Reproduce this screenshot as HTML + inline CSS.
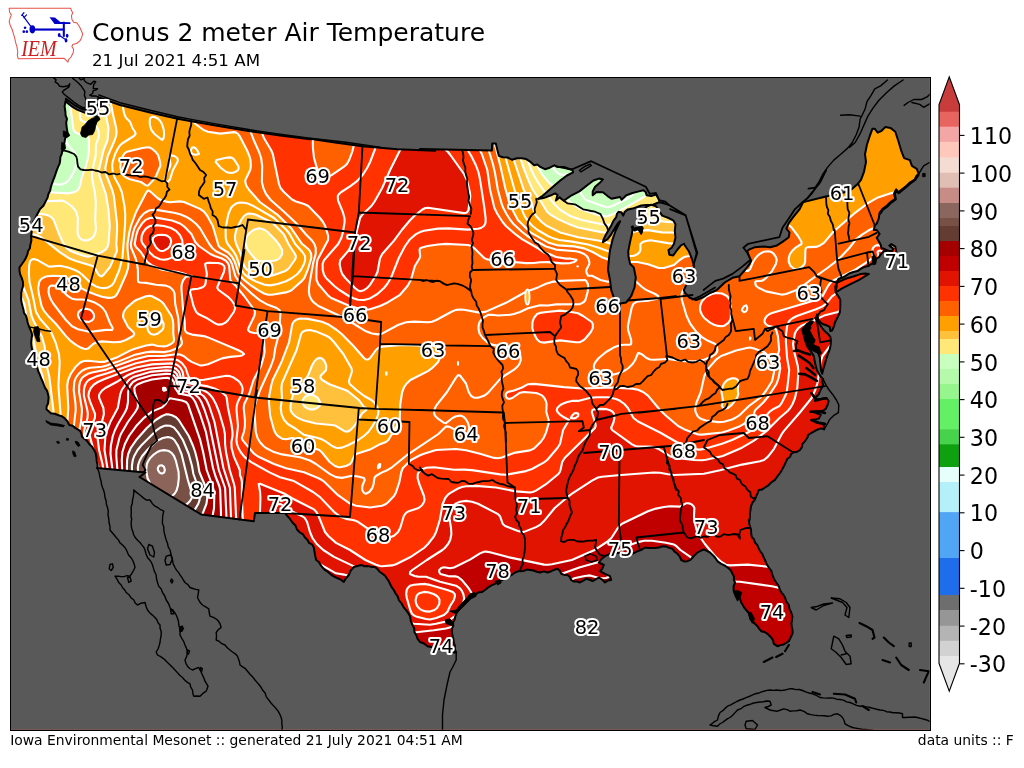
<!DOCTYPE html>
<html lang="en"><head><meta charset="utf-8"><title>Conus 2 meter Air Temperature</title>
<style>html,body{margin:0;padding:0;background:#fff;}body{width:1024px;height:768px;overflow:hidden;}svg{display:block;}svg text{font-family:'DejaVu Sans', 'Liberation Sans', sans-serif;}</style></head><body>
<svg width="1024" height="768" viewBox="0 0 1024 768">
<rect width="1024" height="768" fill="#fff"/>
<defs><clipPath id="axclip"><rect x="10.5" y="77.5" width="920.0" height="653.0"/></clipPath></defs>
<rect x="10.5" y="77.5" width="920.0" height="653.0" fill="#595959"/>
<g clip-path="url(#axclip)">
<defs><clipPath id="land"><path d="M65.6,100.9 64.6,106.1 65.4,112.0 65.6,115.5 67.0,118.8 66.2,122.7 66.6,126.6 67.4,132.1 68.8,135.4 65.4,137.4 64.5,142.3 62.9,147.1 62.5,150.1 61.7,154.0 60.4,156.8 60.2,159.8 59.7,163.4 58.2,166.7 56.8,170.1 55.7,173.5 54.5,177.0 53.1,180.4 51.9,183.8 50.8,187.2 50.1,190.8 48.4,194.0 47.6,197.6 45.9,200.9 43.4,205.7 40.0,209.1 38.6,211.8 37.1,214.5 34.8,220.0 33.2,221.5 32.9,225.5 31.8,229.3 31.6,232.7 31.2,236.1 31.4,240.6 30.3,244.9 29.9,248.3 28.0,251.3 27.3,254.7 26.0,257.7 24.4,260.5 22.0,264.0 19.5,267.4 19.5,270.8 20.1,274.2 21.8,278.1 23.0,282.0 23.1,286.0 21.9,289.8 21.2,293.1 21.2,296.3 21.1,299.6 21.7,302.9 22.5,306.2 23.4,309.4 24.0,312.9 26.0,315.8 27.0,319.1 27.8,323.2 29.3,327.0 30.9,330.8 32.2,334.8 31.6,338.7 31.2,342.6 31.5,346.3 32.2,350.0 34.4,352.7 36.1,355.6 37.0,359.5 36.8,363.4 37.1,367.3 38.3,371.4 40.0,375.2 41.2,378.5 42.7,381.6 43.9,384.9 45.1,387.9 47.0,390.6 47.9,393.7 48.6,397.1 48.4,400.5 48.0,403.5 46.7,406.3 46.5,409.3 50.8,413.2 54.8,413.8 58.6,415.2 61.8,416.2 64.5,418.1 67.4,421.2 69.3,425.0 72.6,425.8 75.2,427.9 80.1,430.8 81.4,433.7 82.0,436.7 84.4,438.7 86.9,440.6 89.0,443.8 91.8,446.4 94.0,449.7 95.7,453.3 96.4,457.2 96.7,461.1 97.5,464.5 97.7,467.9 97.0,468.0 145.5,472.5 139.5,477.0 201.2,514.5 253.8,521.2 255.0,513.0 285.0,513.0 287.5,516.1 290.2,519.2 292.5,522.5 295.5,525.5 297.0,529.5 300.0,532.5 303.1,534.4 305.0,537.5 307.5,540.0 309.1,542.9 312.2,544.6 313.8,547.5 314.5,551.7 315.2,555.9 316.2,560.0 318.9,562.0 320.6,564.9 322.5,567.5 324.8,569.8 327.5,571.6 330.0,573.8 332.8,575.9 336.0,577.5 340.2,579.3 343.8,582.0 345.9,578.3 348.8,575.0 350.7,570.7 353.8,567.0 357.5,566.0 361.2,565.0 364.6,566.2 368.1,566.1 371.5,566.9 375.0,567.0 377.6,569.1 379.7,571.8 382.5,573.8 385.1,575.8 386.9,578.5 388.8,581.2 390.2,584.3 391.8,587.3 393.8,590.0 395.5,593.3 397.7,596.4 398.8,600.0 401.6,603.5 403.8,607.5 406.2,610.1 408.2,613.1 410.0,616.2 410.8,620.8 412.5,625.0 414.2,628.2 414.4,631.9 416.2,635.0 417.6,638.8 420.0,642.0 424.1,643.5 427.5,646.2 431.3,646.9 435.0,648.0 438.3,648.7 441.8,648.6 445.0,650.0 448.8,650.7 452.4,652.3 456.2,652.5 456.2,652.5 454.8,649.3 454.9,645.8 453.8,642.5 453.4,639.1 452.5,635.8 452.0,632.5 451.8,629.1 453.2,625.9 453.0,622.5 454.6,619.8 455.2,616.7 456.2,613.8 457.9,611.3 459.2,608.5 461.2,606.2 463.7,602.5 467.5,600.0 469.9,598.1 472.6,596.8 475.0,595.0 478.0,592.6 481.9,592.1 485.0,590.0 488.1,587.5 491.4,585.4 495.0,583.8 497.9,581.0 502.1,580.3 505.0,577.5 508.5,576.2 512.0,574.8 515.0,572.5 520.0,570.5 520.0,571.2 523.4,571.0 526.6,569.6 530.0,570.0 533.4,570.5 536.7,571.7 540.0,572.5 543.7,571.4 547.6,572.5 551.2,571.2 554.3,569.8 557.5,568.8 559.9,570.9 561.2,573.8 564.3,574.9 567.5,575.0 569.9,577.1 571.2,580.0 574.0,581.6 577.1,581.6 580.0,582.5 583.2,580.7 586.2,578.8 589.5,579.7 592.5,581.2 595.6,579.4 598.8,577.5 602.2,579.6 605.0,582.5 607.8,580.5 611.2,580.0 610.0,576.2 605.0,573.8 600.0,571.2 602.4,568.5 603.8,565.0 598.8,562.5 601.5,559.0 605.0,556.2 610.0,553.8 613.8,554.0 617.5,552.7 621.2,553.0 624.9,554.1 628.7,554.2 632.5,553.8 637.5,551.2 641.5,549.8 645.0,547.5 648.3,548.1 651.7,548.0 655.0,548.0 658.8,547.5 662.5,546.2 666.0,546.4 669.2,547.9 672.5,548.8 674.6,551.7 677.5,553.8 679.8,556.6 681.2,560.0 684.2,561.4 687.5,561.2 690.4,559.9 692.5,557.5 694.9,554.9 697.5,552.5 700.5,550.8 703.8,549.5 706.9,550.9 710.0,552.5 712.6,554.9 715.0,557.5 717.5,561.3 721.2,563.8 724.5,565.4 727.5,567.5 730.7,570.1 732.5,573.8 734.0,576.5 733.8,579.7 735.0,582.5 733.5,586.7 733.8,591.2 736.3,593.1 738.8,595.0 740.0,598.7 741.2,602.5 742.8,605.1 744.2,607.7 746.2,610.0 748.6,612.9 750.0,616.2 751.1,619.4 752.5,622.5 752.5,621.2 754.9,623.8 757.5,626.2 759.2,628.9 761.2,631.2 764.6,632.0 767.5,633.8 771.2,637.5 773.1,640.4 773.8,643.8 777.5,646.2 780.6,645.1 783.8,644.5 788.8,641.2 791.2,636.2 791.2,636.2 792.6,633.3 792.5,630.0 791.8,626.7 791.4,623.4 792.0,620.0 792.4,616.2 791.2,612.5 789.5,608.9 788.8,605.0 786.3,601.5 785.0,597.5 783.5,594.9 781.5,592.6 780.0,590.0 778.7,586.0 776.2,582.5 774.0,578.9 772.5,575.0 771.3,570.9 768.8,567.5 766.6,563.9 765.0,560.0 763.5,557.0 762.3,553.8 760.0,551.2 758.6,548.2 757.3,545.1 755.0,542.5 754.1,539.5 751.8,537.0 751.2,533.8 751.0,529.3 749.5,525.0 748.8,520.0 749.5,520.0 750.0,516.7 749.9,513.3 750.5,510.0 751.0,506.1 752.5,502.5 754.9,499.7 756.2,496.2 757.6,493.2 758.8,490.0 762.1,489.4 765.0,487.5 768.4,485.3 771.2,482.5 774.9,479.9 777.5,476.2 779.3,473.8 781.1,471.4 782.5,468.8 784.5,465.1 786.2,461.2 787.6,458.5 790.2,456.7 791.2,453.8 794.0,452.2 797.3,451.7 800.0,450.0 801.9,447.1 802.5,443.8 805.2,440.8 807.5,437.5 808.1,435.0 811.0,433.2 815.9,430.3 820.8,428.4 824.2,429.3 823.7,424.5 820.8,423.5 815.9,422.5 812.0,420.1 814.9,419.6 818.8,418.6 820.8,414.7 816.9,413.2 813.0,411.8 818.8,411.3 822.7,410.8 825.7,408.8 827.6,404.9 828.6,401.0 826.6,398.1 822.7,398.6 818.8,400.0 814.9,401.0 815.9,397.1 818.8,394.2 820.8,389.3 823.2,385.4 822.4,382.0 822.7,378.6 823.3,379.7 820.4,376.2 816.9,370.3 815.1,363.3 813.9,356.3 811.0,351.6 807.5,346.9 805.2,341.0 804.0,335.2 804.0,329.3 806.3,324.6 811.0,321.1 812.8,321.7 809.3,327.0 808.1,332.8 809.3,338.7 811.0,344.5 814.5,349.2 818.0,352.7 819.8,357.4 820.4,363.3 821.0,370.3 822.2,373.8 823.3,369.1 825.1,363.3 826.3,358.6 828.0,353.9 829.8,349.2 830.7,344.5 830.9,341.0 830.4,336.9 828.0,334.0 825.1,331.6 822.2,328.1 820.4,325.2 818.0,322.3 816.3,318.8 816.9,314.6 817.5,316.4 818.6,319.9 820.4,322.3 822.7,324.0 826.3,325.2 829.8,327.0 830.4,331.1 832.1,330.5 833.9,326.4 835.0,322.3 837.4,317.6 839.7,312.9 840.3,307.0 840.3,300.0 839.6,298.4 837.7,295.4 835.7,292.5 836.1,289.6 836.7,286.2 836.7,282.7 838.6,278.8 842.3,277.9 845.5,275.9 849.1,273.5 853.3,272.0 857.5,271.1 861.1,268.7 864.3,266.9 867.9,266.1 872.8,263.2 874.8,259.3 878.7,257.3 881.6,253.4 884.5,250.5 888.4,254.4 894.3,255.4 896.2,251.5 895.3,246.6 891.4,244.1 889.4,245.6 893.3,248.6 892.3,251.5 887.5,250.5 883.6,248.6 881.6,248.6 880.9,245.5 879.6,242.7 876.7,237.8 879.6,233.9 876.7,230.0 873.8,230.0 874.8,225.5 876.7,223.6 878.7,218.7 879.6,212.8 882.6,208.9 886.5,206.0 890.4,202.1 895.3,199.1 894.3,193.3 896.2,189.4 898.2,192.3 902.1,189.4 906.0,186.4 909.9,182.5 914.8,179.6 916.2,176.3 918.7,173.8 916.8,168.9 911.9,165.9 909.9,160.1 904.1,158.1 901.1,150.3 898.2,140.5 895.3,131.8 890.4,127.9 885.5,126.9 881.6,130.8 877.7,132.7 874.8,128.8 872.4,128.8 869.9,135.7 867.0,144.5 865.0,154.2 866.0,162.0 864.0,171.8 861.1,179.6 858.2,183.5 849.4,191.3 825.9,196.6 803.5,202.1 802.8,202.8 799.7,209.1 793.4,216.9 788.8,223.1 786.4,228.6 789.5,232.5 788.8,237.2 782.5,241.9 776.2,245.8 770.0,247.3 763.8,246.6 754.4,247.3 748.9,249.7 747.3,251.2 748.1,254.4 751.2,260.6 749.7,263.8 745.0,270.0 739.5,276.2 732.5,277.8 724.7,282.5 716.9,290.0 710.0,293.0 703.8,297.0 696.2,300.0 690.0,298.0 685.0,293.0 683.8,290.0 686.2,285.0 688.8,278.8 692.0,271.2 694.2,266.2 692.0,259.0 688.8,251.2 684.0,244.2 684.1,243.8 681.0,245.3 677.1,250.0 673.2,255.5 669.3,254.7 668.5,250.0 671.6,247.7 674.0,243.8 675.5,237.5 674.8,231.2 675.5,224.2 673.2,220.3 668.5,218.0 662.2,215.6 656.0,206.2 651.3,204.7 647.4,206.2 643.5,209.4 641.9,215.6 641.2,221.9 640.4,225.0 642.7,228.1 641.2,233.6 638.8,229.7 635.7,228.1 632.6,229.7 631.8,234.4 630.7,239.1 629.4,245.3 628.2,251.6 628.7,257.8 630.2,264.1 633.8,267.5 635.8,277.5 634.5,287.5 631.2,296.2 626.2,302.5 618.8,303.8 613.8,297.5 611.2,290.0 610.0,280.0 608.0,270.0 608.8,260.0 610.0,250.0 612.5,240.0 612.2,240.6 613.8,235.9 615.4,231.2 617.7,226.6 620.1,221.1 617.7,223.4 615.4,227.3 613.0,231.2 610.7,235.2 607.6,239.1 602.9,242.2 603.7,239.1 606.0,234.4 608.3,230.5 610.7,226.6 612.2,223.4 613.8,220.3 616.2,217.2 616.9,214.1 618.5,211.7 621.6,212.5 623.2,215.6 624.8,211.7 627.9,209.4 632.6,208.6 637.2,207.0 641.2,205.5 646.6,205.0 652.9,204.7 659.1,202.3 663.8,203.1 668.5,204.7 665.4,203.9 659.9,202.3 658.3,198.4 656.0,194.5 651.3,196.1 646.6,195.3 645.8,192.2 643.5,190.3 638.8,191.4 632.6,193.0 626.3,195.3 621.6,199.7 620.1,196.9 616.2,197.7 611.5,198.8 607.6,196.1 602.9,192.2 596.6,191.9 592.7,195.3 592.7,191.4 595.1,186.7 599.8,182.8 602.9,179.4 599.0,178.6 593.5,180.5 587.2,185.2 579.4,191.4 571.6,195.3 563.8,200.8 560.7,198.4 559.8,197.3 555.9,200.5 557.5,195.0 555.2,193.4 549.7,195.8 543.4,198.1 538.0,198.9 542.7,195.8 548.1,191.1 554.4,185.6 560.6,180.2 566.9,175.5 573.1,172.3 572.3,169.7 570.0,169.2 563.8,166.9 557.5,166.9 554.4,165.3 549.7,167.7 545.0,169.2 540.3,166.9 537.2,164.5 534.1,165.3 530.9,162.2 526.2,159.1 521.6,158.3 516.9,158.3 512.2,159.8 507.5,157.5 502.8,157.2 498.9,155.9 497.3,149.7 495.8,143.4 492.2,143.4 491.9,150.5 420.0,148.9 435.0,150.8 397.5,149.2 362.5,146.2 335.0,142.5 310.0,138.8 310.0,139.2 280.0,135.5 250.0,131.2 220.0,126.2 191.2,121.2 177.5,118.8 150.0,112.5 120.0,105.0 98.8,97.5 98.6,97.4 97.6,103.3 98.6,117.0 85.9,113.1 82.0,111.6 77.1,109.6 72.2,106.7 67.8,103.3 65.6,100.9ZM835.7,292.5 841.6,288.6 849.4,284.7 859.1,279.8 868.9,273.9 865.0,273.4 861.1,273.9 853.3,276.5 845.5,278.8 837.7,282.3 835.3,286.6Z" clip-rule="nonzero"/></clipPath></defs>
<g clip-path="url(#land)">
<rect x="0" y="0" width="1024" height="768" fill="#96f58c"/>
<path d="M42.6,74.0 602.3,74.0 598.0,79.8 593.0,88.0 588.9,96.0 585.6,104.0 582.9,112.0 581.1,120.0 580.5,126.0 580.8,132.0 581.7,136.0 583.4,140.0 597.2,160.0 608.0,182.3 610.0,184.9 612.0,186.3 616.0,187.0 619.4,186.0 622.0,184.5 626.0,180.7 630.0,175.7 640.0,162.0 648.0,150.0 653.5,140.0 657.0,132.0 659.7,124.0 661.7,116.0 663.4,102.0 663.4,94.0 662.9,88.0 661.4,80.0 659.5,74.0 934.0,74.0 934.0,732.0 8.0,732.0 8.0,536.0 13.6,506.0 16.9,482.0 18.6,458.0 19.3,428.0 18.8,412.0 17.2,400.0 14.0,386.4 8.0,366.9 8.0,173.8 14.0,171.4 22.0,169.1 46.0,164.5 50.0,162.1 51.3,160.0 52.2,156.0 52.7,140.0 55.8,124.0 55.9,120.0 54.5,114.0 46.9,92.0 42.6,74.0Z" fill="#c8ffbe" fill-rule="evenodd"/>
<path d="M67.4,74.0 544.4,74.0 538.0,120.1 535.7,142.0 535.4,150.0 535.8,158.0 536.4,162.0 538.0,167.0 542.0,174.1 548.0,181.6 556.0,188.6 567.5,200.0 575.4,206.0 580.0,208.8 584.0,210.4 600.0,215.4 606.0,216.3 608.0,216.1 612.0,214.6 632.0,203.9 648.0,194.7 664.5,188.0 672.0,184.5 681.6,178.0 690.3,170.0 697.3,162.0 704.8,152.0 712.5,140.0 719.2,128.0 725.0,116.0 730.9,102.0 735.9,88.0 740.2,74.0 934.0,74.0 934.0,732.0 8.0,732.0 8.0,659.5 17.5,592.0 32.1,504.0 34.4,482.0 35.0,462.0 34.7,414.0 33.4,400.0 29.9,384.0 23.4,364.0 20.1,352.0 11.2,312.0 8.0,303.7 8.0,200.9 12.9,198.0 18.0,195.7 28.0,192.8 34.0,192.0 42.0,191.7 68.0,193.4 74.8,192.0 77.8,190.0 79.1,188.0 80.4,184.0 81.5,178.0 85.9,166.0 88.0,157.8 88.8,152.0 88.9,140.0 88.6,138.0 86.7,136.0 78.0,133.7 75.1,132.0 73.5,130.0 70.2,106.0 67.4,74.0Z" fill="#ffe878" fill-rule="evenodd"/>
<path d="M93.4,74.0 512.6,74.0 517.2,136.0 519.1,152.0 520.9,160.0 522.9,166.0 528.0,179.3 532.8,190.0 539.9,200.0 547.3,212.0 550.0,214.3 558.0,219.1 570.0,224.6 578.0,227.5 600.0,231.9 610.0,233.2 614.0,232.8 618.0,230.9 629.7,220.0 633.3,218.0 638.0,218.0 666.7,222.0 674.0,222.1 681.3,220.0 688.0,217.0 694.0,213.4 702.0,207.5 717.1,194.0 737.2,174.0 754.1,156.0 765.9,142.0 774.6,130.0 783.4,116.0 792.2,100.0 805.6,74.0 934.0,74.0 934.0,732.0 26.3,732.0 36.3,606.0 41.0,562.0 49.6,498.0 50.6,484.0 50.6,470.0 48.5,438.0 47.7,410.0 45.9,396.0 42.8,378.0 38.0,362.0 33.5,340.0 26.8,320.0 24.4,304.0 22.0,298.6 12.0,280.0 8.0,270.7 8.0,236.8 10.4,232.0 14.0,227.0 18.0,222.9 22.0,219.8 26.0,217.5 32.0,215.2 38.0,214.1 42.0,214.1 46.0,214.8 49.4,216.0 52.0,217.9 53.7,220.0 59.0,234.0 62.7,242.0 66.5,248.0 70.0,250.7 78.3,254.0 84.3,256.0 88.0,256.7 91.5,256.0 102.0,252.1 106.0,249.1 107.9,246.0 108.6,242.0 109.8,226.0 108.5,210.0 106.0,194.5 99.6,176.0 98.9,170.0 103.6,150.0 107.6,140.0 108.5,128.0 105.7,114.0 104.0,110.7 98.1,102.0 95.6,96.0 93.7,86.0 93.4,74.0ZM254.0,229.7 250.0,232.5 246.9,236.0 245.9,238.0 245.4,242.0 246.2,246.0 248.0,250.4 254.3,258.0 256.0,259.8 258.0,260.7 262.0,261.3 274.0,260.8 276.9,260.0 279.9,258.0 282.2,254.0 282.1,250.0 280.0,245.9 276.0,240.6 267.6,232.0 264.0,229.5 260.0,228.4 258.0,228.4 254.0,229.7ZM308.0,395.2 306.0,396.0 304.0,397.7 302.8,400.0 302.6,402.0 302.9,404.0 304.0,405.9 306.5,408.0 310.0,409.4 314.0,409.4 317.2,408.0 319.5,406.0 320.3,404.0 320.1,402.0 317.9,398.0 314.0,395.3 310.0,394.8 308.0,395.2Z" fill="#ffc03c" fill-rule="evenodd"/>
<path d="M108.6,74.0 498.1,74.0 503.3,100.0 510.2,144.0 513.2,158.0 523.8,190.0 531.7,204.0 534.1,212.0 536.0,216.0 541.7,222.0 546.0,225.5 560.0,232.4 578.0,237.2 604.0,241.5 620.0,246.8 622.0,246.7 622.8,246.0 624.9,240.0 627.6,236.0 630.0,233.8 634.0,231.8 638.0,231.0 648.0,230.1 662.0,232.4 678.0,232.6 686.0,231.8 692.0,230.0 700.0,226.2 706.9,222.0 715.1,216.0 746.0,190.6 780.2,164.0 788.0,157.0 794.9,150.0 801.5,142.0 808.5,132.0 830.9,94.0 844.3,74.0 934.0,74.0 934.0,732.0 40.2,732.0 47.3,594.0 50.7,554.0 57.7,496.0 58.4,484.0 58.3,472.0 55.1,440.0 53.4,410.0 49.2,376.0 46.7,366.0 44.6,346.0 41.7,336.0 34.0,321.8 31.6,316.0 28.5,300.0 20.5,280.0 17.1,270.0 15.6,262.0 15.5,256.0 16.1,252.0 17.3,248.0 19.3,244.0 22.0,240.3 24.5,238.0 28.0,235.8 32.0,234.6 34.0,234.5 38.0,235.6 42.0,238.0 60.0,252.4 70.0,258.8 76.0,261.1 92.6,266.0 94.8,268.0 98.0,274.1 100.0,276.1 102.0,276.1 104.0,274.4 110.0,267.0 116.6,252.0 116.9,250.0 116.3,244.0 117.1,230.0 117.1,224.0 113.9,196.0 112.3,190.0 105.9,174.0 105.3,168.0 107.8,156.0 114.8,140.0 116.1,136.0 116.6,132.0 116.2,128.0 112.9,114.0 108.8,92.0 108.2,84.0 108.6,74.0ZM248.0,213.6 246.0,214.5 244.0,216.0 241.1,220.0 236.2,230.0 234.9,236.0 235.1,240.0 236.2,244.0 240.7,254.0 244.0,265.6 245.4,268.0 248.0,270.7 252.0,273.1 268.0,276.0 270.0,276.0 274.0,275.1 284.0,271.5 286.9,270.0 289.1,268.0 294.8,260.0 295.7,258.0 295.8,256.0 295.0,254.0 288.5,244.0 284.0,234.5 274.0,224.3 271.1,222.0 256.0,214.7 252.0,213.7 248.0,213.6ZM320.0,357.9 318.0,358.2 316.0,359.6 314.0,361.9 312.0,365.5 308.7,374.0 304.2,382.0 302.8,384.0 293.3,394.0 291.5,400.0 290.5,406.0 290.5,410.0 292.0,413.0 295.0,416.0 298.0,418.0 304.0,420.6 316.0,423.5 334.0,425.3 336.0,426.0 344.0,430.9 346.0,431.6 348.0,431.5 350.5,430.0 354.3,426.0 358.5,420.0 362.0,413.4 366.4,410.0 366.0,408.0 364.0,407.0 358.9,400.0 348.0,391.2 346.0,390.2 330.0,384.5 322.3,380.0 320.6,378.0 320.5,376.0 326.0,370.2 326.3,366.0 325.8,364.0 324.0,360.4 322.0,358.6 320.0,357.9Z" fill="#ffa000" fill-rule="evenodd"/>
<path d="M168.0,74.0 466.6,74.0 474.0,88.4 480.0,101.6 490.0,128.1 495.3,146.0 500.8,168.0 505.2,188.0 509.8,204.0 516.5,218.0 518.0,220.2 523.5,226.0 529.8,232.0 532.0,233.4 547.1,242.0 552.7,244.0 558.0,245.4 572.0,246.2 582.5,248.0 590.0,250.7 604.0,258.2 610.0,260.1 628.0,261.9 638.0,262.1 648.0,264.3 660.0,268.3 664.0,268.0 674.0,265.0 682.0,258.3 686.0,256.5 696.0,255.2 704.0,253.6 718.0,249.1 730.0,243.2 748.0,231.9 756.0,227.5 766.0,223.8 776.0,222.3 784.0,223.2 786.3,224.0 789.8,226.0 793.5,230.0 800.6,240.0 801.6,242.0 801.4,244.0 796.0,247.3 792.0,251.1 790.0,254.0 788.7,258.0 788.8,262.0 790.6,266.0 794.0,268.7 796.0,269.2 798.0,269.1 802.0,267.0 804.4,264.0 805.1,262.0 805.4,250.0 806.0,247.9 808.0,247.1 816.0,246.9 820.0,245.4 824.0,242.9 833.1,232.0 854.0,213.7 868.0,203.1 878.0,197.4 890.0,193.4 896.0,192.2 910.0,191.5 918.0,190.3 926.0,187.7 934.0,183.5 934.0,732.0 69.0,732.0 68.6,686.0 67.0,606.0 67.0,574.0 68.4,540.0 72.9,492.0 73.5,480.0 72.6,468.0 68.3,446.0 67.3,436.0 67.3,424.0 68.3,408.0 67.2,386.0 68.1,380.0 70.7,374.0 76.0,366.4 80.0,362.7 82.0,361.7 84.0,361.0 88.0,360.7 100.0,362.0 104.0,361.9 118.0,356.9 130.0,350.6 134.0,349.0 146.0,345.5 152.0,344.6 157.7,346.0 164.0,346.4 166.8,346.0 171.0,344.0 173.5,342.0 174.1,340.0 173.3,334.0 173.3,324.0 172.8,320.0 171.5,316.0 164.0,304.2 162.0,302.0 159.2,300.0 152.0,296.2 150.0,295.7 146.0,296.2 136.2,300.0 134.0,301.4 126.4,308.0 123.7,312.0 123.0,316.0 123.4,318.0 128.0,326.9 133.3,332.0 134.3,334.0 133.1,336.0 125.8,340.0 120.0,341.9 114.0,342.3 102.0,341.4 96.9,342.0 93.1,344.0 88.0,348.6 86.0,349.1 84.0,348.8 80.0,347.2 76.0,344.9 70.0,340.3 66.0,336.1 56.1,324.0 48.0,315.7 44.0,310.9 41.6,306.0 38.9,294.0 38.2,288.0 39.2,282.0 40.4,280.0 42.0,278.4 46.0,276.5 52.0,275.7 60.0,276.0 64.0,277.0 68.0,278.7 72.0,281.1 82.0,288.6 88.8,292.0 96.0,294.8 102.0,296.7 108.0,297.9 112.0,297.8 114.0,297.1 115.5,296.0 117.1,294.0 119.2,290.0 126.3,274.0 128.1,268.0 128.7,260.0 127.6,250.0 127.5,244.0 129.4,232.0 130.9,226.0 136.1,212.0 146.0,192.9 148.0,190.4 150.0,191.2 157.5,198.0 160.6,200.0 166.0,201.6 170.0,202.2 180.0,201.4 184.0,202.0 200.0,208.9 204.0,211.7 207.3,216.0 212.8,226.0 218.6,246.0 220.7,248.0 228.0,252.5 232.0,256.7 234.8,262.0 238.1,272.0 240.4,276.0 244.0,279.9 250.0,284.8 258.0,290.1 264.0,293.5 268.0,294.8 272.0,294.8 286.0,292.4 290.0,291.1 292.0,289.8 302.0,280.9 304.4,278.0 308.0,269.2 311.3,258.0 311.2,254.0 310.0,251.1 308.0,248.7 302.0,243.8 291.1,228.0 278.0,215.2 259.8,202.0 249.2,190.0 246.5,186.0 245.3,182.0 245.4,180.0 250.2,170.0 250.9,166.0 250.5,160.0 249.4,156.0 246.9,150.0 240.0,136.7 238.1,134.0 236.0,132.5 234.0,132.1 220.0,133.6 208.0,131.7 203.6,130.0 195.6,124.0 192.0,120.3 189.3,116.0 181.3,100.0 171.3,82.0 168.0,74.0ZM728.0,379.7 726.0,381.2 723.7,384.0 721.6,390.0 721.5,392.0 722.8,400.0 721.8,406.0 723.2,408.0 724.0,408.3 726.0,408.5 728.0,408.0 732.0,404.6 737.1,398.0 738.3,394.0 737.8,390.0 738.5,382.0 737.9,380.0 736.0,378.7 734.0,378.2 732.0,378.3 728.0,379.7ZM296.0,319.8 294.0,321.3 292.3,324.0 289.1,342.0 281.5,362.0 272.7,380.0 271.1,386.0 269.2,396.0 268.9,402.0 270.2,416.0 274.0,430.0 276.0,433.9 277.8,436.0 282.0,438.7 286.0,439.2 292.0,438.1 294.0,438.3 302.0,443.8 319.2,450.0 322.0,452.5 329.7,462.0 334.9,466.0 338.0,467.1 340.0,467.2 346.0,466.0 350.1,464.0 351.5,462.0 354.3,456.0 356.0,454.0 370.0,449.6 380.0,444.2 386.0,442.0 388.4,440.0 397.9,424.0 399.7,420.0 400.3,404.0 402.2,392.0 404.0,387.3 406.3,384.0 410.4,380.0 428.0,371.1 432.0,368.2 436.0,364.3 438.1,362.0 439.8,358.0 439.9,354.0 439.1,350.0 438.0,347.6 436.1,346.0 432.0,345.4 424.0,345.7 402.0,345.0 382.0,346.6 378.2,348.0 375.9,350.0 370.0,358.1 368.0,359.5 366.0,359.5 364.0,358.0 353.5,346.0 341.7,334.0 336.8,330.0 328.0,324.2 322.0,321.7 308.0,318.9 300.0,318.5 296.0,319.8ZM142.4,148.0 148.0,147.2 150.0,147.6 152.0,148.8 156.0,152.3 158.0,154.8 160.1,162.0 160.3,166.0 156.0,176.0 154.0,179.3 148.0,185.6 146.0,185.3 140.9,182.0 130.0,179.3 126.0,177.5 124.0,176.0 122.4,174.0 120.4,168.0 120.6,162.0 122.0,157.7 124.1,154.0 126.0,152.3 128.0,151.4 142.4,148.0Z" fill="#ff6000" fill-rule="evenodd"/>
<path d="M260.0,76.0 260.5,74.0 397.6,74.0 412.0,78.8 424.0,84.7 432.0,89.8 438.0,94.2 450.0,105.2 456.0,111.8 462.0,119.5 472.0,134.7 480.1,150.0 486.8,168.0 488.0,173.7 490.1,190.0 494.4,208.0 497.4,214.0 504.2,224.0 508.0,228.0 522.0,239.2 537.5,248.0 544.0,252.7 549.4,254.0 556.0,257.0 566.0,258.6 570.0,258.5 576.5,260.0 574.3,262.0 570.0,263.1 562.0,263.4 548.0,262.1 540.0,262.3 534.0,263.0 526.0,263.1 492.0,260.1 488.0,259.6 484.0,257.8 474.1,248.0 471.2,246.0 468.0,245.0 446.0,243.9 438.0,244.5 427.6,246.0 422.0,247.4 420.0,248.5 419.5,250.0 420.2,256.0 419.7,258.0 414.9,266.0 410.9,280.0 407.5,286.0 400.0,294.8 386.0,303.3 380.0,306.0 370.0,309.2 364.0,309.8 360.0,309.0 348.0,305.3 331.2,298.0 328.0,295.4 318.3,284.0 316.6,280.0 316.4,278.0 316.5,268.0 317.4,260.0 328.1,240.0 328.2,236.0 326.0,228.0 324.3,224.0 322.0,220.6 318.0,215.7 310.0,207.5 306.0,204.7 296.0,201.5 292.0,199.5 282.0,190.1 280.0,187.0 278.5,182.0 272.8,154.0 271.1,150.0 263.9,138.0 262.0,132.0 258.8,92.0 258.9,84.0 260.0,76.0ZM334.0,109.3 330.0,111.5 326.0,115.0 320.0,122.8 315.5,132.0 314.0,136.4 312.8,142.0 312.9,148.0 314.0,158.0 316.9,168.0 318.0,170.5 320.0,173.2 322.0,174.8 326.0,176.3 330.0,175.9 332.0,174.9 344.0,166.7 346.9,164.0 349.2,160.0 352.2,152.0 354.2,144.0 354.5,138.0 353.8,130.0 352.0,122.5 349.0,116.0 346.0,111.9 342.0,109.2 338.0,108.5 334.0,109.3ZM149.9,218.0 156.0,217.6 168.0,219.6 174.0,221.0 180.0,223.5 184.0,226.3 191.4,234.0 195.2,242.0 198.9,246.0 210.3,254.0 214.6,256.0 222.0,258.5 226.0,260.9 228.0,263.4 229.1,266.0 230.3,280.0 231.6,282.0 236.0,286.1 244.1,296.0 254.4,310.0 255.0,312.0 254.3,316.0 248.5,328.0 248.0,330.0 250.0,332.1 254.0,333.0 260.0,333.3 262.0,334.2 263.3,336.0 264.0,338.6 264.6,352.0 264.0,355.6 261.0,366.0 253.5,380.0 249.2,394.0 244.2,404.0 243.7,408.0 244.9,420.0 244.9,426.0 243.9,432.0 241.8,438.0 242.6,440.0 244.0,441.9 254.0,453.7 258.0,456.5 274.0,464.0 286.0,468.2 304.0,472.2 318.0,478.0 321.9,480.0 324.0,481.6 338.0,495.2 350.0,503.6 356.0,505.7 368.0,507.5 374.0,507.2 382.0,505.7 386.0,504.0 388.0,502.3 394.0,496.0 396.0,492.4 399.4,482.0 401.3,472.0 402.9,468.0 411.0,460.0 420.0,455.3 424.0,453.7 436.0,450.0 456.0,449.0 466.0,450.3 480.0,453.8 494.0,457.9 498.0,458.3 502.0,457.4 514.0,452.9 530.0,450.4 534.0,448.5 540.7,442.0 543.6,438.0 546.0,432.6 548.5,424.0 548.7,420.0 546.3,412.0 546.6,404.0 546.0,401.2 544.4,398.0 542.0,395.4 538.0,393.6 536.0,393.0 524.0,392.0 520.0,392.7 512.3,398.0 510.0,398.8 508.0,398.7 506.9,398.0 505.7,396.0 505.8,394.0 507.7,392.0 514.0,390.4 522.0,387.5 528.0,384.2 534.0,383.9 564.0,387.1 582.0,388.5 612.0,387.5 632.0,388.6 638.0,389.7 643.1,392.0 648.0,395.6 660.0,410.0 666.3,416.0 678.1,426.0 684.0,429.2 698.0,434.5 702.0,434.6 722.0,432.5 728.0,430.7 740.0,426.2 750.8,420.0 753.2,418.0 754.1,416.0 754.4,412.0 755.4,410.0 763.8,402.0 768.6,396.0 776.5,384.0 778.6,378.0 780.3,368.0 779.8,366.0 776.0,362.3 774.9,360.0 775.0,358.0 776.0,356.0 778.1,354.0 779.2,350.0 777.9,336.0 776.2,330.0 774.6,328.0 772.0,326.6 768.0,325.7 765.7,324.0 764.6,322.0 764.6,320.0 765.4,318.0 766.9,316.0 769.6,314.0 772.0,313.1 816.0,300.0 820.6,298.0 822.6,296.0 828.0,286.0 831.1,282.0 834.2,280.0 854.8,270.0 870.0,260.1 872.0,258.0 872.8,256.0 872.4,250.0 873.0,248.0 874.0,246.8 876.0,245.4 878.0,245.1 880.0,245.5 884.0,247.3 886.0,247.5 892.0,247.1 902.0,245.2 934.0,237.2 934.0,732.0 99.8,732.0 95.9,678.0 86.9,594.0 84.5,564.0 83.9,546.0 83.9,528.0 84.8,510.0 87.0,482.0 87.2,474.0 86.2,466.0 80.4,446.0 78.9,438.0 78.9,432.0 81.0,422.0 81.9,412.0 81.8,408.0 79.1,392.0 79.2,386.0 80.0,381.8 82.0,378.0 84.3,376.0 88.0,373.8 92.0,372.5 106.0,369.6 134.0,359.4 148.0,356.0 164.0,355.9 176.0,354.3 180.0,354.5 184.0,356.2 188.0,359.6 192.0,362.1 200.0,365.4 202.0,365.5 208.0,364.2 222.0,358.4 230.0,356.9 239.6,356.0 242.0,355.5 244.1,354.0 241.8,352.0 237.9,350.0 208.0,337.4 204.0,336.1 192.0,334.6 188.0,333.3 186.0,332.0 185.0,330.0 184.8,322.0 183.1,310.0 181.5,290.0 181.5,286.0 182.0,283.3 183.3,280.0 186.0,276.6 191.9,276.0 188.0,275.6 185.2,274.0 178.0,272.1 162.0,269.8 152.0,265.4 147.3,262.0 140.8,252.0 136.0,247.1 134.7,244.0 134.9,242.0 136.1,236.0 138.0,229.7 140.0,226.3 144.0,221.3 146.0,219.6 149.9,218.0ZM711.9,294.0 716.0,293.0 722.0,293.5 726.9,296.0 730.1,300.0 731.0,304.0 730.8,318.0 730.0,320.4 728.0,323.2 724.0,325.8 722.0,326.2 718.0,325.9 714.0,324.7 710.0,322.6 704.3,318.0 702.0,314.8 700.7,312.0 700.1,310.0 700.2,306.0 702.0,301.2 706.0,296.9 711.9,294.0ZM80.8,310.0 84.0,308.9 86.0,308.7 90.0,309.8 92.0,311.4 93.7,314.0 94.1,316.0 93.8,318.0 92.5,320.0 90.0,321.4 88.0,321.9 84.0,321.4 81.1,320.0 79.1,318.0 78.1,316.0 78.0,314.0 78.7,312.0 80.8,310.0ZM546.7,312.0 560.0,310.6 570.0,311.7 578.0,313.3 583.1,316.0 591.7,322.0 592.8,324.0 592.8,328.0 590.8,332.0 585.8,338.0 583.8,340.0 580.0,342.1 576.0,342.3 560.0,340.4 544.0,342.6 540.1,342.0 538.0,340.3 536.2,338.0 533.4,332.0 532.3,328.0 532.5,322.0 533.9,318.0 537.1,314.0 540.0,312.9 546.7,312.0Z" fill="#ff3200" fill-rule="evenodd"/>
<path d="M417.3,140.0 422.0,139.7 426.0,140.1 434.0,142.4 438.0,144.3 443.7,148.0 448.0,152.0 450.0,154.5 464.0,174.0 466.9,180.0 469.8,192.0 470.3,196.0 468.5,210.0 467.3,212.0 466.0,212.8 464.0,213.1 428.0,207.7 425.3,208.0 422.0,209.7 414.0,216.2 410.0,220.3 401.8,230.0 394.0,240.6 382.2,254.0 380.0,258.4 377.5,272.0 375.6,276.0 370.0,284.9 367.1,288.0 364.0,290.2 360.0,291.2 358.0,290.4 355.0,288.0 345.3,278.0 342.2,274.0 340.8,270.0 339.6,264.0 340.4,260.0 354.2,244.0 355.7,240.0 356.6,232.0 360.1,218.0 362.0,215.1 371.4,206.0 374.3,202.0 382.2,188.0 390.1,170.0 400.0,150.2 404.0,146.0 408.0,143.2 412.0,141.3 417.3,140.0ZM155.0,236.0 158.0,235.0 162.0,234.7 166.0,235.3 168.0,236.2 170.1,238.0 170.9,240.0 171.2,242.0 169.9,246.0 168.0,248.3 164.0,250.7 162.0,251.0 160.0,250.7 158.7,250.0 156.0,247.2 153.1,242.0 152.7,240.0 153.1,238.0 155.0,236.0ZM897.2,276.0 906.0,275.6 934.0,277.1 934.0,732.0 134.5,732.0 130.5,700.0 125.2,668.0 119.4,640.0 105.3,580.0 101.8,562.0 99.3,544.0 98.0,529.1 97.5,514.0 98.8,476.0 98.5,468.0 90.0,436.9 89.3,432.0 90.4,428.0 94.9,418.0 95.1,414.0 90.0,401.4 88.4,396.0 89.0,392.0 90.0,389.4 92.4,386.0 96.0,383.1 104.0,379.2 130.0,369.4 136.0,367.5 152.0,364.4 172.0,363.4 176.0,364.4 178.0,365.6 180.6,368.0 182.7,372.0 184.0,381.2 184.4,382.0 186.0,382.9 208.0,386.4 216.0,389.1 221.6,392.0 226.0,396.0 226.7,398.0 228.0,408.0 231.4,424.0 232.5,432.0 232.5,436.0 231.4,442.0 231.6,448.0 234.0,456.9 239.8,470.0 240.0,475.5 241.2,478.0 241.9,482.0 241.9,498.0 242.7,518.0 244.0,521.8 246.0,523.9 250.0,525.5 252.0,525.4 254.0,524.7 257.0,522.0 258.9,518.0 260.0,512.0 260.4,498.0 260.1,492.0 258.7,484.0 260.0,483.8 284.0,493.5 292.0,498.2 314.0,509.4 316.4,512.0 318.0,514.7 325.0,532.0 328.3,536.0 336.0,542.9 350.0,550.0 365.4,560.0 376.0,564.7 380.0,566.0 382.0,566.2 392.0,565.4 396.0,564.3 410.0,557.3 424.0,548.0 428.0,544.0 434.0,536.3 436.1,532.0 439.8,520.0 442.7,504.0 445.2,498.0 448.0,494.6 450.0,493.1 458.0,488.5 462.0,487.0 466.0,486.2 476.0,485.9 496.0,487.5 516.0,491.4 530.0,492.5 532.8,492.0 536.0,490.6 546.0,484.2 558.4,474.0 559.8,472.0 560.5,470.0 562.2,462.0 564.7,458.0 595.0,428.0 595.7,426.0 595.5,424.0 591.8,412.0 592.5,410.0 594.0,409.4 602.0,408.9 606.0,409.1 610.0,410.2 612.9,412.0 614.1,414.0 614.4,418.0 613.6,422.0 611.1,428.0 612.1,430.0 632.0,444.4 635.4,446.0 638.0,446.5 650.0,446.6 654.0,447.1 658.0,448.7 670.0,456.2 674.0,457.7 694.0,460.0 702.0,460.2 708.0,459.5 724.0,455.6 740.0,448.7 750.0,443.1 756.0,439.3 766.0,431.4 779.5,418.0 786.6,412.0 790.2,408.0 793.5,402.0 795.6,396.0 797.3,388.0 798.4,372.0 797.8,366.0 794.0,351.0 793.0,344.0 794.8,334.0 796.0,331.1 798.0,328.5 802.0,325.4 814.0,320.5 824.0,315.6 838.0,311.9 849.0,306.0 864.0,298.9 876.0,291.5 892.0,278.1 897.2,276.0ZM424.0,583.9 414.0,584.8 410.0,585.8 407.7,588.0 406.7,590.0 406.2,594.0 406.8,598.0 410.3,610.0 412.0,613.8 414.0,615.5 416.0,616.4 426.0,619.0 430.0,619.5 436.2,618.0 444.0,615.1 447.3,612.0 450.1,606.0 453.9,600.0 455.0,596.0 454.7,594.0 452.8,592.0 447.4,590.0 430.0,584.9 424.0,583.9Z" fill="#e01400" fill-rule="evenodd"/>
<path d="M922.5,346.0 934.0,344.2 934.0,732.0 176.5,732.0 173.2,710.0 169.6,690.0 165.5,672.0 161.5,658.0 156.8,644.0 151.3,630.0 130.0,584.4 122.0,564.8 118.0,553.0 114.9,542.0 112.3,530.0 110.4,518.0 109.0,502.0 108.1,472.0 104.5,450.0 105.4,436.0 106.4,432.0 110.3,422.0 117.8,408.0 120.3,394.0 121.8,390.0 127.1,382.0 128.9,380.0 132.0,377.7 138.0,375.2 150.0,371.9 166.0,370.4 172.0,370.8 174.7,372.0 176.7,374.0 178.0,377.0 179.5,384.0 182.0,387.3 186.0,388.9 192.5,390.0 197.8,392.0 203.5,396.0 206.5,400.0 209.2,406.0 214.5,422.0 223.4,468.0 229.9,488.0 231.3,526.0 232.6,536.0 234.0,541.1 236.0,545.8 238.5,550.0 242.0,554.1 246.0,557.2 250.0,559.3 254.0,560.6 260.0,561.3 264.0,561.0 270.0,559.9 288.0,553.8 292.0,553.3 296.0,553.6 304.0,556.2 316.0,561.8 336.0,573.3 344.0,574.6 348.0,575.7 354.0,580.3 367.7,594.0 374.5,602.0 386.6,618.0 392.2,624.0 397.4,628.0 402.0,630.4 408.0,632.1 414.0,632.5 434.0,630.3 446.0,628.5 455.2,626.0 460.0,623.6 464.9,620.0 468.5,616.0 472.0,610.0 473.5,604.0 473.2,598.0 471.0,592.0 468.5,588.0 462.0,580.1 458.0,577.0 456.0,576.4 448.0,576.1 440.4,574.0 439.2,572.0 439.3,570.0 441.3,568.0 444.0,567.3 450.0,568.2 454.0,567.5 470.0,559.6 480.0,553.4 484.0,551.8 486.0,551.6 490.0,552.3 508.0,557.1 544.0,564.6 548.0,564.8 552.0,564.2 571.8,560.0 594.0,550.3 606.8,542.0 611.4,538.0 618.0,527.8 620.0,525.4 622.0,523.8 648.0,511.2 656.0,508.6 664.0,507.0 670.0,506.3 680.0,506.6 686.0,503.3 688.0,503.2 690.0,503.6 692.0,504.7 693.4,506.0 694.4,508.0 694.0,516.0 694.2,520.0 696.6,530.0 699.3,536.0 704.9,544.0 714.9,556.0 721.4,562.0 726.0,564.7 730.0,565.4 748.0,564.6 768.0,566.7 772.8,566.0 778.0,564.5 788.5,560.0 797.7,554.0 804.0,548.1 808.8,542.0 813.2,534.0 815.6,528.0 817.9,520.0 823.1,492.0 825.9,480.0 829.4,468.0 834.3,454.0 837.7,446.0 840.8,440.0 852.0,423.3 857.4,414.0 861.0,406.0 868.9,386.0 874.0,376.4 878.0,370.9 882.5,366.0 888.0,361.3 894.0,357.2 900.0,353.8 908.0,350.2 914.5,348.0 922.5,346.0Z" fill="#c00000" fill-rule="evenodd"/>
<path d="M163.7,378.0 168.0,377.9 172.0,379.3 174.0,382.0 175.0,388.0 177.8,392.0 182.0,394.1 190.0,395.7 192.7,398.0 195.3,402.0 200.0,414.0 205.9,432.0 213.0,468.0 215.4,476.0 219.3,486.0 220.2,490.0 221.0,514.0 220.7,518.0 208.0,564.6 204.0,574.3 200.0,580.0 196.0,583.4 190.0,585.6 186.0,585.9 180.0,585.1 174.0,583.1 168.0,580.2 162.0,576.4 156.0,571.6 150.0,565.8 144.0,558.8 135.5,546.0 132.0,539.4 128.0,530.2 125.1,522.0 122.4,512.0 119.2,494.0 116.3,456.0 116.4,450.0 119.4,438.0 120.9,434.0 127.9,422.0 135.2,412.0 137.5,408.0 137.9,406.0 137.8,402.0 134.7,392.0 134.3,388.0 135.5,386.0 138.0,384.2 143.3,382.0 152.0,379.5 163.7,378.0ZM646.9,562.0 656.0,560.9 662.0,560.7 666.0,561.2 670.0,563.1 676.0,568.3 690.0,582.8 698.0,590.3 706.0,596.6 722.7,608.0 727.5,612.0 734.7,620.0 748.2,638.0 753.8,644.0 758.3,648.0 766.0,653.3 776.0,658.1 786.0,661.1 796.0,662.8 804.0,663.2 814.0,662.9 822.0,662.0 832.0,660.1 840.1,658.0 850.0,654.7 868.0,646.8 876.7,642.0 886.0,636.2 902.3,624.0 918.0,609.8 934.0,592.4 934.0,732.0 235.1,732.0 234.0,704.0 234.0,684.0 235.1,668.0 237.4,656.0 239.5,650.0 241.5,646.0 246.0,639.9 253.2,634.0 264.0,628.6 278.0,623.9 292.0,620.9 304.0,620.2 314.0,621.3 322.0,623.6 330.0,627.3 338.0,632.3 364.0,650.9 374.0,656.5 384.0,660.8 398.0,664.9 412.0,667.2 426.0,667.9 436.0,666.9 444.0,664.7 452.0,661.3 464.0,654.4 476.0,646.4 484.0,640.1 490.0,634.5 510.4,612.0 516.0,607.5 524.0,602.8 552.0,590.4 574.0,578.3 584.8,576.0 590.0,575.4 600.0,578.2 606.0,578.0 611.3,576.0 622.0,570.0 628.0,567.3 637.8,564.0 646.9,562.0Z" fill="#a50000" fill-rule="evenodd"/>
<path d="M162.0,416.0 166.0,414.4 168.0,414.3 172.0,415.2 176.0,417.3 178.7,420.0 188.8,436.0 193.1,446.0 195.2,452.0 197.7,462.0 199.4,472.0 205.2,486.0 207.3,498.0 206.4,504.0 200.9,518.0 198.0,523.7 194.0,529.5 189.7,534.0 184.0,538.1 180.0,539.9 174.0,541.1 170.0,541.0 166.0,540.3 162.0,539.0 158.0,537.0 154.0,534.2 150.0,530.8 144.0,523.8 138.0,514.1 133.0,502.0 129.6,490.0 127.3,476.0 126.9,468.0 127.1,460.0 128.2,454.0 130.7,448.0 136.0,440.3 146.8,428.0 155.7,420.0 162.0,416.0ZM582.1,618.0 590.0,616.4 598.0,616.2 610.0,617.3 622.0,619.1 630.0,620.7 638.0,623.2 644.6,626.0 651.5,630.0 660.0,636.5 670.0,646.5 678.0,656.0 701.8,686.0 718.0,703.6 727.2,712.0 736.0,719.0 746.0,726.0 756.2,732.0 390.2,732.0 420.0,724.7 438.0,719.2 456.0,711.9 472.0,703.4 486.0,694.3 502.0,681.9 515.7,670.0 543.7,644.0 558.0,632.1 572.0,622.5 582.1,618.0ZM930.6,730.0 934.0,728.4 934.0,732.0 926.2,732.0 930.6,730.0Z" fill="#643c32" fill-rule="evenodd"/>
<path d="M162.8,438.0 168.0,437.0 172.0,438.1 174.4,440.0 178.0,445.6 181.5,454.0 187.9,480.0 192.0,494.0 191.8,498.0 190.0,501.0 188.0,503.1 180.0,509.4 176.0,511.3 172.0,512.3 166.0,512.1 160.0,509.9 156.0,507.3 150.6,502.0 146.0,495.4 142.4,488.0 139.8,480.0 138.1,472.0 137.8,468.0 138.4,464.0 139.9,460.0 142.2,456.0 148.0,449.2 154.0,443.4 158.0,440.4 162.8,438.0Z" fill="#785046" fill-rule="evenodd"/>
<path d="M157.4,452.0 160.0,450.8 164.0,450.1 168.0,450.8 170.0,451.8 172.0,453.4 174.0,456.0 176.0,461.2 178.6,472.0 178.8,478.0 178.0,485.4 176.7,490.0 175.7,492.0 174.0,494.3 172.0,496.0 170.0,496.7 168.0,497.0 164.0,496.5 160.0,494.8 156.2,492.0 151.2,486.0 147.5,478.0 146.2,470.0 146.9,464.0 148.0,461.3 150.2,458.0 154.0,454.3 157.4,452.0Z" fill="#8c645a" fill-rule="evenodd"/>
<path d="M8.0,129.8 11.7,124.0 13.4,120.0 14.5,116.0 15.4,110.0 15.0,98.0 11.6,74.0M8.0,156.9 20.7,150.0 28.5,144.0 31.8,140.0 34.2,136.0 36.0,132.0 37.9,126.0 38.6,120.0 37.8,112.0 28.3,74.0M8.0,478.6 10.0,454.0 10.6,430.0 10.0,414.0 8.0,399.5M602.3,74.0 598.0,79.8 593.0,88.0 588.9,96.0 585.6,104.0 582.9,112.0 581.1,120.0 580.5,126.0 580.8,132.0 581.7,136.0 583.4,140.0 597.2,160.0 608.0,182.3 610.0,184.9 612.0,186.3 616.0,187.0 619.4,186.0 622.0,184.5 626.0,180.7 630.0,175.7 640.0,162.0 648.0,150.0 653.5,140.0 657.0,132.0 659.7,124.0 661.7,116.0 663.4,102.0 663.4,94.0 662.9,88.0 661.4,80.0 659.5,74.0M8.0,173.8 14.0,171.4 22.0,169.1 46.0,164.5 50.0,162.1 51.3,160.0 52.2,156.0 52.7,140.0 55.8,124.0 55.9,120.0 54.5,114.0 46.9,92.0 42.6,74.0M8.0,536.0 13.6,506.0 16.9,482.0 18.6,458.0 19.3,428.0 18.8,412.0 17.2,400.0 14.0,386.4 8.0,366.9M565.6,74.0 556.8,106.0 550.4,136.0 548.5,152.0 548.9,158.0 549.8,162.0 551.7,166.0 554.0,169.3 556.6,172.0 559.3,174.0 562.0,174.8 564.0,174.8 570.0,173.7 572.0,173.7 574.0,175.6 581.3,194.0 583.8,198.0 586.0,200.0 604.0,206.6 608.0,207.2 612.0,206.2 628.0,198.3 631.3,196.0 642.0,186.0 659.1,172.0 665.7,166.0 671.4,160.0 677.8,152.0 683.1,144.0 687.7,136.0 692.4,126.0 696.4,116.0 702.3,96.0 704.5,86.0 706.3,74.0M8.0,187.6 14.0,185.0 20.0,183.2 32.0,181.3 42.0,181.6 58.0,184.5 62.0,184.4 66.0,182.6 68.9,180.0 72.0,175.3 74.7,170.0 76.4,162.0 76.0,156.0 74.0,151.6 68.0,145.2 65.7,140.0 65.0,136.0 64.8,132.0 66.6,120.0 59.8,98.0 57.3,86.0 55.4,74.0M8.0,587.5 20.6,520.0 24.8,492.0 26.8,466.0 27.3,424.0 26.7,408.0 24.5,394.0 21.9,384.0 13.7,358.0 8.0,335.2M544.4,74.0 538.0,120.1 535.7,142.0 535.4,150.0 535.8,158.0 536.4,162.0 538.0,167.0 542.0,174.1 548.0,181.6 556.0,188.6 567.5,200.0 575.4,206.0 580.0,208.8 584.0,210.4 600.0,215.4 606.0,216.3 608.0,216.1 612.0,214.6 632.0,203.9 648.0,194.7 664.5,188.0 672.0,184.5 681.6,178.0 690.3,170.0 697.3,162.0 704.8,152.0 712.5,140.0 719.2,128.0 725.0,116.0 730.9,102.0 735.9,88.0 740.2,74.0M8.0,200.9 12.9,198.0 18.0,195.7 28.0,192.8 34.0,192.0 42.0,191.7 68.0,193.4 74.8,192.0 77.8,190.0 79.1,188.0 80.4,184.0 81.5,178.0 85.9,166.0 88.0,157.8 88.8,152.0 88.9,140.0 88.6,138.0 86.7,136.0 78.0,133.7 75.1,132.0 73.5,130.0 70.2,106.0 67.4,74.0M8.0,659.5 17.5,592.0 32.1,504.0 34.4,482.0 35.0,462.0 34.7,414.0 33.4,400.0 29.9,384.0 23.4,364.0 20.1,352.0 11.2,312.0 8.0,303.7M527.6,74.0 526.0,130.0 526.3,148.0 527.2,156.0 528.4,162.0 530.4,168.0 534.0,175.5 538.0,182.4 544.0,191.0 554.3,204.0 560.4,210.0 570.0,215.9 581.7,220.0 602.0,224.2 608.0,224.9 610.0,224.7 614.0,222.9 626.0,213.8 630.0,211.6 636.0,209.4 652.0,205.3 668.0,205.0 674.0,204.0 678.0,202.6 682.0,200.7 688.0,197.0 698.0,188.8 708.7,178.0 720.9,164.0 731.7,150.0 741.3,136.0 749.8,122.0 757.2,108.0 764.7,92.0 772.2,74.0M8.0,215.6 12.0,212.0 17.9,208.0 22.0,205.9 28.0,203.8 40.0,201.5 62.0,200.6 65.7,202.0 71.4,206.0 75.0,210.0 76.2,212.0 77.9,218.0 77.5,232.0 78.0,234.8 79.7,238.0 82.0,239.8 84.0,240.4 88.0,240.2 92.0,238.1 94.0,235.8 95.5,232.0 95.9,228.0 95.2,220.0 95.8,202.0 94.8,192.0 92.3,180.0 91.9,174.0 92.8,168.0 95.6,156.0 96.0,144.7 98.4,138.0 98.9,134.0 98.2,130.0 96.0,126.0 92.0,123.3 84.0,121.8 82.0,120.9 81.0,120.0 80.0,118.0 79.8,114.0 80.3,98.0 79.8,74.0M12.5,732.0 20.9,650.0 26.4,602.0 30.9,568.0 41.1,500.0 42.6,484.0 42.9,470.0 41.7,436.0 41.5,412.0 39.7,396.0 36.0,378.9 30.5,362.0 22.0,328.0 17.9,306.0 15.1,300.0 8.0,288.5M512.6,74.0 517.2,136.0 519.1,152.0 520.9,160.0 522.9,166.0 528.0,179.3 532.8,190.0 539.9,200.0 547.3,212.0 550.0,214.3 558.0,219.1 570.0,224.6 578.0,227.5 600.0,231.9 610.0,233.2 614.0,232.8 618.0,230.9 629.7,220.0 633.3,218.0 638.0,218.0 666.7,222.0 674.0,222.1 681.3,220.0 688.0,217.0 694.0,213.4 702.0,207.5 717.1,194.0 737.2,174.0 754.1,156.0 765.9,142.0 774.6,130.0 783.4,116.0 792.2,100.0 805.6,74.0M254.0,229.7 250.0,232.5 246.9,236.0 245.9,238.0 245.4,242.0 246.2,246.0 248.0,250.4 254.3,258.0 256.0,259.8 258.0,260.7 262.0,261.3 274.0,260.8 276.9,260.0 279.9,258.0 282.2,254.0 282.1,250.0 280.0,245.9 276.0,240.6 267.6,232.0 264.0,229.5 260.0,228.4 258.0,228.4 254.0,229.7M8.0,236.8 10.4,232.0 14.0,227.0 18.0,222.9 22.0,219.8 26.0,217.5 32.0,215.2 38.0,214.1 42.0,214.1 46.0,214.8 49.4,216.0 52.0,217.9 53.7,220.0 59.0,234.0 62.7,242.0 66.5,248.0 70.0,250.7 78.3,254.0 84.3,256.0 88.0,256.7 91.5,256.0 102.0,252.1 106.0,249.1 107.9,246.0 108.6,242.0 109.8,226.0 108.5,210.0 106.0,194.5 99.6,176.0 98.9,170.0 103.6,150.0 107.6,140.0 108.5,128.0 105.7,114.0 104.0,110.7 98.1,102.0 95.6,96.0 93.7,86.0 93.4,74.0M308.0,395.2 306.0,396.0 304.0,397.7 302.8,400.0 302.6,402.0 302.9,404.0 304.0,405.9 306.5,408.0 310.0,409.4 314.0,409.4 317.2,408.0 319.5,406.0 320.3,404.0 320.1,402.0 317.9,398.0 314.0,395.3 310.0,394.8 308.0,395.2M26.3,732.0 36.3,606.0 41.0,562.0 49.6,498.0 50.6,484.0 50.6,470.0 48.5,438.0 47.7,410.0 45.9,396.0 42.5,376.0 38.0,362.0 33.5,340.0 26.8,320.0 24.4,304.0 22.0,298.6 12.0,280.0 8.0,270.7M498.1,74.0 503.3,100.0 510.2,144.0 513.2,158.0 523.8,190.0 531.7,204.0 534.1,212.0 536.0,216.0 541.7,222.0 546.0,225.5 560.0,232.4 578.0,237.2 604.0,241.5 620.0,246.8 622.0,246.7 622.8,246.0 624.9,240.0 627.6,236.0 630.0,233.8 634.0,231.8 638.0,231.0 648.0,230.1 662.0,232.4 678.0,232.6 686.0,231.8 692.0,230.0 700.0,226.2 706.9,222.0 715.1,216.0 746.0,190.6 780.2,164.0 788.0,157.0 794.9,150.0 801.5,142.0 808.5,132.0 830.9,94.0 844.3,74.0M248.0,213.6 246.0,214.5 244.0,216.0 241.1,220.0 236.2,230.0 234.9,236.0 235.1,240.0 236.2,244.0 240.7,254.0 244.0,265.6 245.4,268.0 248.0,270.7 252.0,273.1 268.0,276.0 270.0,276.0 274.0,275.1 284.0,271.5 286.9,270.0 289.1,268.0 294.8,260.0 295.7,258.0 295.8,256.0 295.0,254.0 288.5,244.0 284.0,234.5 274.0,224.3 271.1,222.0 256.0,214.7 252.0,213.7 248.0,213.6M320.0,357.9 318.0,358.2 316.0,359.6 314.0,361.9 312.0,365.5 308.7,374.0 304.2,382.0 302.8,384.0 293.3,394.0 291.5,400.0 290.5,406.0 290.5,410.0 292.0,413.0 295.0,416.0 298.0,418.0 304.0,420.6 316.0,423.5 334.0,425.3 336.0,426.0 344.0,430.9 346.0,431.6 348.0,431.5 350.5,430.0 354.3,426.0 358.5,420.0 362.0,413.4 366.4,410.0 366.0,408.0 364.0,407.0 358.9,400.0 348.0,391.2 346.0,390.2 330.0,384.5 322.3,380.0 320.6,378.0 320.5,376.0 326.0,370.2 326.3,366.0 325.8,364.0 324.0,360.4 322.0,358.6 320.0,357.9M40.2,732.0 47.3,594.0 50.7,554.0 57.7,496.0 58.4,484.0 58.3,472.0 55.1,440.0 53.4,410.0 49.2,376.0 46.7,366.0 44.6,346.0 41.7,336.0 34.0,321.8 31.6,316.0 28.5,300.0 20.5,280.0 17.1,270.0 15.6,262.0 15.5,256.0 16.1,252.0 17.3,248.0 19.3,244.0 22.0,240.3 24.5,238.0 28.0,235.8 32.0,234.6 34.0,234.5 38.0,235.6 42.0,238.0 60.0,252.4 70.0,258.8 76.0,261.1 92.6,266.0 94.8,268.0 98.0,274.1 100.0,276.1 102.0,276.1 104.0,274.4 110.0,267.0 116.6,252.0 116.9,250.0 116.3,244.0 117.1,230.0 117.1,224.0 113.9,196.0 112.3,190.0 105.9,174.0 105.3,168.0 107.8,156.0 114.8,140.0 116.1,136.0 116.6,132.0 116.2,128.0 112.9,114.0 108.8,92.0 108.2,84.0 108.6,74.0M483.2,74.0 489.3,92.0 494.5,110.0 499.0,128.0 505.1,156.0 514.6,190.0 523.6,214.0 525.8,218.0 528.8,222.0 532.5,226.0 537.6,230.0 547.8,236.0 554.0,238.6 559.2,240.0 572.0,241.6 588.0,244.5 598.0,247.4 616.0,254.0 630.0,256.1 634.0,255.7 637.7,254.0 639.6,252.0 640.4,250.0 640.4,244.0 642.8,242.0 646.0,241.0 650.0,240.4 652.0,240.5 668.0,243.1 684.0,244.7 692.0,243.3 701.6,240.0 710.0,236.2 718.0,231.6 748.0,210.8 762.0,202.7 778.0,195.7 808.0,186.4 814.0,183.8 820.8,180.0 831.3,172.0 836.0,167.1 839.8,162.0 844.0,153.6 850.2,136.0 854.4,126.0 860.0,116.2 866.0,108.5 874.0,100.4 882.0,93.9 892.0,87.0 912.7,74.0M152.0,116.9 150.5,118.0 150.0,119.0 149.7,122.0 150.0,125.5 151.4,130.0 154.5,134.0 162.1,140.0 163.7,138.0 164.1,134.0 163.8,130.0 162.0,124.0 160.0,120.8 158.0,118.8 154.0,116.8 152.0,116.9M192.0,147.6 191.0,150.0 191.1,152.0 192.0,153.6 194.0,154.6 196.0,154.8 199.0,154.0 197.1,150.0 195.2,148.0 194.0,147.3 192.0,147.6M170.0,155.8 169.3,158.0 170.5,164.0 170.1,166.0 169.3,168.0 167.8,170.0 164.4,180.0 166.0,182.0 168.0,181.7 170.0,179.4 172.9,170.0 177.4,162.0 177.9,160.0 177.2,158.0 174.3,156.0 172.0,155.4 170.0,155.8M226.0,157.8 216.5,160.0 215.7,162.0 220.9,168.0 226.4,172.0 230.0,172.9 232.0,172.9 235.1,172.0 238.0,170.2 238.7,168.0 238.3,166.0 234.0,159.4 232.0,157.8 230.0,157.4 226.0,157.8M236.0,203.6 232.6,206.0 231.0,208.0 228.4,214.0 225.6,228.0 225.7,238.0 226.7,242.0 227.7,244.0 234.0,252.2 236.2,256.0 240.4,268.0 244.0,273.8 248.0,277.3 256.0,281.5 264.0,284.6 270.0,285.4 277.7,284.0 286.0,281.2 292.0,278.0 297.4,274.0 300.8,270.0 304.0,264.0 305.1,260.0 305.0,256.0 302.4,252.0 295.2,244.0 289.6,234.0 286.5,230.0 274.0,218.0 254.0,206.3 248.0,203.6 244.0,202.7 240.0,202.5 236.0,203.6M152.0,317.8 150.0,319.2 148.0,321.7 147.1,326.0 147.9,330.0 148.9,332.0 150.9,334.0 154.0,334.8 158.0,333.4 162.2,330.0 163.4,328.0 163.7,324.0 162.0,320.5 158.7,318.0 156.0,317.1 154.0,317.1 152.0,317.8M310.0,330.0 306.0,330.4 304.0,331.1 302.0,332.4 301.1,334.0 296.6,350.0 282.0,383.2 281.4,388.0 282.0,398.0 280.7,408.0 281.5,414.0 284.0,419.8 287.8,424.0 296.0,429.0 304.0,434.9 316.0,437.5 322.0,439.3 326.0,441.6 332.0,446.0 336.0,447.7 338.0,448.0 342.0,447.6 348.0,445.2 358.3,440.0 363.9,436.0 368.3,432.0 372.0,426.9 376.9,418.0 378.3,414.0 378.4,410.0 376.7,406.0 373.8,402.0 371.5,400.0 364.2,396.0 356.4,390.0 349.7,384.0 349.0,382.0 349.2,380.0 351.8,372.0 351.9,370.0 351.3,368.0 343.3,354.0 333.9,342.0 330.1,338.0 326.8,336.0 316.0,331.4 310.0,330.0M54.4,732.0 56.5,616.0 57.6,582.0 60.1,544.0 65.6,492.0 66.1,482.0 65.9,474.0 61.1,436.0 60.4,412.0 58.4,386.0 59.7,362.0 58.9,354.0 55.4,342.0 51.0,332.0 48.1,328.0 40.0,318.7 36.0,311.9 33.3,298.0 29.5,282.0 28.9,274.0 29.1,266.0 30.0,261.3 32.0,259.4 34.0,259.1 38.0,260.3 48.0,266.2 50.0,266.6 60.0,265.8 68.0,267.5 74.9,270.0 78.7,272.0 82.0,274.5 91.8,284.0 96.0,286.4 100.0,287.7 104.0,288.1 108.0,287.5 112.0,285.1 114.2,282.0 119.3,270.0 122.4,258.0 125.1,224.0 125.2,214.0 124.5,206.0 121.8,192.0 119.3,186.0 114.8,178.0 112.7,172.0 112.2,166.0 112.6,162.0 115.1,154.0 118.0,148.3 120.0,145.4 122.0,143.5 133.9,136.0 135.6,134.0 135.1,132.0 132.4,128.0 130.2,122.0 126.0,117.8 125.1,116.0 124.0,112.9 123.1,108.0 122.9,104.0 123.6,98.0 128.4,74.0M466.6,74.0 478.0,97.0 488.0,122.2 494.8,144.0 500.8,168.0 505.2,188.0 509.1,202.0 511.5,208.0 517.8,220.0 530.0,232.1 548.0,242.4 558.0,245.4 574.0,246.4 584.0,248.4 592.6,252.0 602.0,257.3 608.0,259.6 614.0,260.7 622.0,261.1 628.0,261.9 637.3,262.0 648.0,264.3 658.7,268.0 664.0,268.0 674.0,265.0 679.7,260.0 684.0,257.2 686.0,256.5 696.0,255.2 704.0,253.6 712.0,251.3 720.5,248.0 730.0,243.2 750.0,230.7 760.0,225.8 770.0,222.9 778.0,222.4 782.0,222.8 786.0,223.9 790.0,226.1 792.0,228.1 798.0,236.0 801.6,242.0 801.4,244.0 796.0,247.3 792.0,251.1 790.0,254.0 788.7,258.0 788.8,262.0 790.6,266.0 794.0,268.7 796.0,269.2 798.0,269.1 802.0,267.0 804.4,264.0 805.1,262.0 805.4,250.0 806.0,247.9 808.0,247.1 816.0,246.9 820.0,245.4 824.0,242.9 833.1,232.0 854.0,213.7 868.0,203.1 878.0,197.4 890.0,193.4 896.0,192.2 910.0,191.5 918.0,190.3 926.0,187.7 934.0,183.5M142.4,148.0 148.0,147.2 150.0,147.6 152.0,148.8 156.0,152.3 158.0,154.8 160.1,162.0 160.3,166.0 156.0,176.0 154.0,179.3 148.0,185.6 146.0,185.3 140.9,182.0 130.0,179.3 126.0,177.5 124.0,176.0 122.4,174.0 120.4,168.0 120.6,162.0 122.0,157.7 124.1,154.0 126.0,152.3 128.0,151.4 142.4,148.0M296.0,319.8 294.0,321.3 292.3,324.0 289.1,342.0 281.5,362.0 272.7,380.0 271.1,386.0 269.2,396.0 268.9,402.0 270.2,416.0 274.0,430.0 276.0,433.9 277.8,436.0 282.0,438.7 286.0,439.2 292.0,438.1 294.0,438.3 302.0,443.8 319.2,450.0 322.0,452.5 329.7,462.0 334.9,466.0 338.0,467.1 340.0,467.2 346.0,466.0 350.1,464.0 351.5,462.0 354.3,456.0 356.0,454.0 370.0,449.6 380.0,444.2 386.0,442.0 388.4,440.0 397.9,424.0 399.7,420.0 400.3,404.0 402.2,392.0 404.0,387.3 406.3,384.0 410.4,380.0 428.0,371.1 432.0,368.2 436.0,364.3 438.1,362.0 439.8,358.0 439.9,354.0 439.1,350.0 438.0,347.6 436.1,346.0 432.0,345.4 424.0,345.7 402.0,345.0 382.0,346.6 378.2,348.0 375.9,350.0 370.0,358.1 368.0,359.5 366.0,359.5 364.0,358.0 353.5,346.0 341.7,334.0 336.8,330.0 328.0,324.2 322.0,321.7 308.0,318.9 300.0,318.5 296.0,319.8M728.0,379.7 726.0,381.2 723.7,384.0 721.6,390.0 721.5,392.0 722.8,400.0 721.8,406.0 723.2,408.0 724.0,408.3 726.0,408.5 728.0,408.0 732.0,404.6 737.1,398.0 738.3,394.0 737.8,390.0 738.5,382.0 737.9,380.0 736.0,378.7 734.0,378.2 732.0,378.3 728.0,379.7M69.0,732.0 68.6,686.0 67.0,606.0 67.0,574.0 68.4,540.0 72.9,492.0 73.5,480.0 72.6,468.0 68.3,446.0 67.3,436.0 67.3,424.0 68.3,408.0 67.2,386.0 68.1,380.0 70.7,374.0 76.0,366.4 80.0,362.7 82.0,361.7 84.0,361.0 88.0,360.7 100.0,362.0 104.0,361.9 118.0,356.9 130.0,350.6 134.0,349.0 146.0,345.5 152.0,344.6 157.7,346.0 164.0,346.4 166.8,346.0 171.0,344.0 173.5,342.0 174.1,340.0 173.3,334.0 173.3,324.0 172.8,320.0 171.5,316.0 164.0,304.2 162.0,302.0 159.2,300.0 152.0,296.2 150.0,295.7 146.0,296.2 136.2,300.0 134.0,301.4 126.4,308.0 123.7,312.0 123.0,316.0 123.4,318.0 128.0,326.9 133.3,332.0 134.3,334.0 133.1,336.0 125.8,340.0 120.0,341.9 114.0,342.3 102.0,341.4 96.9,342.0 93.1,344.0 88.0,348.6 86.0,349.1 84.0,348.8 80.0,347.2 76.0,344.9 70.0,340.3 66.0,336.1 56.1,324.0 48.0,315.7 44.0,310.9 41.6,306.0 38.9,294.0 38.2,288.0 39.2,282.0 40.4,280.0 42.0,278.4 46.0,276.5 52.0,275.7 60.0,276.0 64.0,277.0 68.0,278.7 72.0,281.1 82.0,288.6 88.8,292.0 96.0,294.8 102.0,296.7 108.0,297.9 112.0,297.8 114.0,297.1 115.5,296.0 117.1,294.0 119.2,290.0 126.3,274.0 128.1,268.0 128.7,260.0 127.6,250.0 127.5,244.0 129.4,232.0 130.9,226.0 136.1,212.0 146.0,192.9 148.0,190.4 150.0,191.2 157.5,198.0 160.6,200.0 166.0,201.6 170.0,202.2 180.0,201.4 184.0,202.0 200.0,208.9 204.0,211.7 207.3,216.0 212.8,226.0 218.6,246.0 220.7,248.0 228.0,252.5 232.0,256.7 234.8,262.0 238.1,272.0 240.4,276.0 244.0,279.9 250.0,284.8 258.0,290.1 264.0,293.5 268.0,294.8 272.0,294.8 286.0,292.4 290.0,291.1 292.0,289.8 302.0,280.9 304.4,278.0 308.0,269.2 311.3,258.0 311.2,254.0 310.0,251.1 308.0,248.7 302.0,243.8 291.1,228.0 278.0,215.2 259.8,202.0 249.2,190.0 246.5,186.0 245.3,182.0 245.4,180.0 250.2,170.0 250.9,166.0 250.5,160.0 249.4,156.0 246.9,150.0 240.0,136.7 238.1,134.0 236.0,132.5 234.0,132.1 220.0,133.6 208.0,131.7 203.6,130.0 195.6,124.0 192.0,120.3 189.3,116.0 181.3,100.0 171.3,82.0 168.0,74.0M445.3,74.0 456.0,87.2 464.0,98.7 472.0,112.1 480.0,128.0 487.4,146.0 492.9,164.0 494.8,172.0 497.9,190.0 501.7,204.0 503.3,208.0 506.5,214.0 510.3,220.0 513.5,224.0 522.2,232.0 527.3,236.0 546.0,246.5 556.0,249.6 576.0,251.3 580.0,252.2 584.2,254.0 586.6,256.0 588.1,258.0 589.4,262.0 589.3,264.0 586.3,270.0 586.3,272.0 588.0,275.8 592.0,275.7 600.5,280.0 608.0,281.8 610.0,281.6 616.4,278.0 620.0,276.6 624.0,276.0 628.0,276.6 631.5,278.0 634.0,279.7 642.0,287.0 646.0,289.9 655.1,294.0 658.2,296.0 658.3,298.0 656.0,299.0 648.0,300.7 638.0,301.5 636.0,302.1 633.3,304.0 631.6,308.0 627.9,326.0 628.1,330.0 631.2,340.0 631.2,344.0 630.0,344.7 624.0,344.7 620.0,345.3 614.0,347.3 606.0,352.0 598.8,358.0 595.5,362.0 594.4,364.0 593.9,366.0 594.0,368.0 594.9,370.0 597.1,372.0 602.0,374.0 608.0,374.7 614.0,374.4 620.0,372.8 625.7,370.0 628.5,368.0 632.6,364.0 635.2,360.0 638.0,353.1 640.0,353.4 642.0,354.4 646.5,358.0 650.0,359.5 654.0,359.7 668.0,359.0 682.0,360.9 690.0,361.4 698.0,361.0 704.0,359.8 712.0,356.5 715.7,354.0 717.0,352.0 717.4,350.0 716.7,346.0 715.3,344.0 708.0,340.8 702.0,337.1 696.0,331.4 690.4,324.0 686.6,316.0 681.9,300.0 681.5,296.0 681.7,294.0 682.3,292.0 684.5,288.0 687.8,284.0 692.0,280.0 696.0,277.0 700.0,274.7 710.0,271.4 722.0,269.5 734.0,269.4 748.0,270.9 750.0,269.3 753.0,262.0 755.6,258.0 758.0,255.4 760.0,253.7 764.0,251.7 768.0,251.2 770.0,251.5 772.0,252.4 774.0,254.1 776.0,257.3 776.7,260.0 775.9,264.0 772.0,271.1 766.0,278.0 764.0,279.8 762.0,280.8 756.0,281.2 755.3,282.0 755.3,284.0 756.2,286.0 758.9,288.0 766.0,291.4 780.0,294.3 782.0,294.6 786.0,294.0 798.0,289.6 810.5,280.0 827.4,268.0 836.0,261.3 841.7,256.0 849.3,248.0 856.0,239.4 862.0,234.6 868.0,230.8 872.0,228.8 876.0,227.5 886.0,227.0 892.0,225.9 906.0,221.5 934.0,213.8M50.1,286.0 52.0,285.5 54.0,285.6 58.0,287.3 61.7,290.0 68.0,296.2 72.0,298.7 76.0,299.5 82.0,299.5 88.0,300.3 94.0,302.2 100.0,305.7 102.7,308.0 105.6,312.0 110.0,323.0 112.7,328.0 112.2,330.0 106.0,329.9 94.0,331.4 88.0,331.6 78.0,329.3 72.0,326.2 65.9,320.0 53.6,304.0 51.1,300.0 49.4,296.0 48.5,292.0 48.8,288.0 50.1,286.0M746.0,305.4 744.0,306.2 742.0,309.3 742.0,310.4 744.0,312.2 746.0,311.4 746.8,310.0 747.3,308.0 746.7,306.0 746.0,305.4M750.0,337.6 750.0,339.4 750.6,338.0 750.0,337.6M748.0,347.8 736.0,350.5 721.1,356.0 716.0,359.7 708.0,368.9 704.3,376.0 700.8,392.0 696.7,402.0 695.5,406.0 695.2,410.0 695.6,412.0 697.5,416.0 699.5,418.0 702.0,419.3 706.0,420.5 718.0,422.1 724.0,421.7 732.0,419.5 736.0,417.5 740.0,414.8 748.9,406.0 760.0,397.9 762.0,396.0 766.5,390.0 772.0,381.3 774.0,372.2 774.2,368.0 768.0,356.3 766.0,353.5 764.0,352.1 754.0,348.6 750.0,347.5 748.0,347.8M458.0,362.0 458.0,364.7 458.0,362.0M379.5,464.0 380.2,464.0 380.0,467.2 378.0,468.3 378.0,465.6 379.5,464.0M84.1,732.0 82.2,684.0 77.3,604.0 76.1,576.0 75.9,556.0 76.3,536.0 77.4,518.0 80.1,488.0 80.5,478.0 79.7,468.0 74.4,446.0 73.3,438.0 73.4,430.0 75.7,410.0 75.5,404.0 73.7,390.0 74.3,382.0 75.7,378.0 78.5,374.0 82.0,370.8 86.0,368.8 90.0,367.8 102.0,366.7 106.0,365.8 118.0,361.6 134.0,355.1 146.0,352.2 152.0,351.6 164.0,352.1 170.0,351.0 177.8,348.0 180.0,346.5 181.8,344.0 182.0,342.0 179.1,332.0 178.3,318.0 175.2,304.0 174.6,294.0 174.1,292.0 172.9,290.0 170.0,287.3 166.0,285.6 156.0,284.7 146.0,282.9 140.0,282.5 138.5,282.0 138.0,281.1 137.9,270.0 137.1,264.0 135.5,258.0 131.3,248.0 130.8,244.0 132.8,234.0 134.5,228.0 139.9,218.0 144.0,213.4 148.0,211.0 150.0,210.3 154.0,209.8 158.0,210.1 174.0,212.8 180.0,214.3 186.0,216.7 191.4,220.0 196.2,224.0 200.0,228.3 209.3,244.0 212.3,248.0 216.0,251.2 226.0,256.1 230.0,260.0 232.0,264.0 235.3,276.0 237.9,280.0 242.0,284.4 252.0,293.9 260.0,300.4 268.0,304.8 276.7,308.0 279.4,310.0 280.2,312.0 280.4,314.0 278.9,334.0 275.3,348.0 273.8,358.0 271.0,366.0 261.0,388.0 256.5,400.0 254.8,406.0 254.5,412.0 255.8,432.0 257.5,438.0 260.0,442.2 263.5,446.0 266.0,448.0 274.0,452.1 282.0,454.4 300.0,457.3 310.0,460.5 316.0,464.0 330.0,474.1 336.0,477.1 342.0,477.9 352.0,475.7 358.0,476.5 363.9,478.0 364.7,480.0 362.3,486.0 362.2,490.0 364.0,493.0 366.0,493.7 369.3,492.0 372.3,488.0 373.6,484.0 374.4,478.0 375.9,476.0 382.0,472.4 386.0,470.8 392.0,467.3 408.0,454.3 438.4,434.0 446.0,426.6 448.0,426.4 450.0,427.1 459.4,432.0 464.0,433.8 466.1,434.0 468.5,432.0 469.3,428.0 468.0,422.9 466.0,419.4 464.0,417.2 462.0,416.1 460.0,415.6 456.0,416.2 452.5,418.0 446.0,423.1 444.0,422.8 438.0,418.7 435.3,416.0 434.2,414.0 434.3,410.0 436.0,405.8 447.0,392.0 456.0,377.6 458.0,375.1 460.0,375.5 466.0,383.5 468.7,392.0 471.2,396.0 474.0,397.6 478.0,397.8 484.0,395.8 488.0,392.9 500.0,379.1 504.0,376.0 514.0,369.7 518.0,366.0 519.4,364.0 520.8,360.0 520.4,356.0 518.4,352.0 516.0,349.5 513.6,348.0 510.0,346.7 498.0,345.9 492.0,344.6 487.1,342.0 482.6,338.0 479.9,334.0 479.1,332.0 478.4,328.0 478.9,324.0 479.6,322.0 482.0,318.6 488.0,314.9 492.0,314.8 498.0,315.5 510.0,314.8 514.0,314.0 520.0,312.0 528.0,308.3 540.0,305.3 548.0,305.5 556.0,304.4 580.0,304.2 583.9,302.0 585.4,300.0 587.6,292.0 588.2,288.0 587.9,284.0 586.0,280.6 584.7,280.0 560.0,280.9 552.0,281.9 546.0,283.8 538.0,287.4 525.5,292.0 506.0,302.8 486.0,311.6 482.0,312.4 478.0,312.4 464.0,309.7 460.0,309.5 456.0,309.9 452.0,311.5 436.3,320.0 432.0,321.7 428.0,322.2 414.0,321.6 406.0,322.3 398.0,325.0 382.0,333.7 378.0,334.4 372.0,333.5 366.0,331.3 344.3,318.0 318.4,306.0 314.0,302.7 311.6,300.0 309.6,296.0 308.9,292.0 309.0,288.0 309.8,282.0 313.4,262.0 315.7,254.0 315.7,248.0 314.4,244.0 312.0,240.6 306.0,234.5 297.0,224.0 284.0,211.7 270.7,200.0 266.0,194.0 263.3,188.0 261.9,182.0 262.2,166.0 261.1,158.0 259.1,152.0 253.7,140.0 248.0,124.9 244.0,118.1 240.0,113.4 224.4,100.0 219.2,94.0 216.7,90.0 214.0,84.4 210.8,74.0M397.6,74.0 406.0,76.5 416.0,80.5 426.0,85.9 434.0,91.2 442.0,97.6 450.0,105.2 458.0,114.3 464.0,122.2 474.0,138.2 481.8,154.0 487.3,170.0 490.1,190.0 494.4,208.0 497.4,214.0 502.6,222.0 505.9,226.0 516.0,234.7 522.0,239.2 537.5,248.0 544.0,252.7 549.4,254.0 556.0,257.0 566.0,258.6 570.0,258.5 576.0,259.7 576.5,260.0 576.0,260.6 574.3,262.0 570.0,263.1 562.0,263.4 548.0,262.1 540.0,262.3 534.0,263.0 526.0,263.1 490.0,260.0 486.0,258.9 484.0,257.8 474.1,248.0 471.2,246.0 468.0,245.0 446.0,243.9 438.0,244.5 427.6,246.0 422.0,247.4 420.0,248.5 419.5,250.0 420.2,256.0 419.7,258.0 414.9,266.0 410.9,280.0 407.5,286.0 400.0,294.8 386.0,303.3 380.0,306.0 370.0,309.2 364.0,309.8 360.0,309.0 348.0,305.3 331.2,298.0 328.0,295.4 318.3,284.0 316.6,280.0 316.4,278.0 316.5,268.0 317.4,260.0 328.1,240.0 328.2,236.0 325.2,226.0 323.0,222.0 320.0,218.0 308.3,206.0 304.2,204.0 296.0,201.5 292.0,199.5 283.9,192.0 280.5,188.0 279.0,184.0 272.8,154.0 271.1,150.0 263.9,138.0 262.4,134.0 261.3,126.0 258.8,92.0 259.0,82.0 260.5,74.0M334.0,109.3 330.0,111.5 326.0,115.0 320.0,122.8 315.5,132.0 314.0,136.4 312.8,142.0 312.9,148.0 314.0,158.0 316.9,168.0 318.0,170.5 320.0,173.2 322.0,174.8 326.0,176.3 330.0,175.9 332.0,174.9 344.0,166.7 346.9,164.0 349.2,160.0 352.2,152.0 354.2,144.0 354.5,138.0 353.8,130.0 352.0,122.5 349.0,116.0 346.0,111.9 342.0,109.2 338.0,108.5 334.0,109.3M711.9,294.0 716.0,293.0 722.0,293.5 726.9,296.0 730.1,300.0 731.0,304.0 730.8,318.0 730.0,320.4 728.0,323.2 724.0,325.8 722.0,326.2 718.0,325.9 714.0,324.7 710.0,322.6 704.3,318.0 702.0,314.8 700.7,312.0 700.1,310.0 700.2,306.0 702.0,301.2 706.0,296.9 711.9,294.0M80.8,310.0 84.0,308.9 86.0,308.7 90.0,309.8 92.0,311.4 93.7,314.0 94.1,316.0 93.8,318.0 92.5,320.0 90.0,321.4 88.0,321.9 84.0,321.4 81.1,320.0 79.1,318.0 78.1,316.0 78.0,314.0 78.7,312.0 80.8,310.0M546.7,312.0 560.0,310.6 570.0,311.7 578.0,313.3 583.1,316.0 591.7,322.0 592.8,324.0 592.8,328.0 590.8,332.0 585.8,338.0 583.8,340.0 580.0,342.1 576.0,342.3 560.0,340.4 544.0,342.6 540.1,342.0 538.0,340.3 536.2,338.0 533.4,332.0 532.3,328.0 532.5,322.0 533.9,318.0 537.1,314.0 540.0,312.9 546.7,312.0M99.8,732.0 95.9,678.0 86.9,594.0 84.5,564.0 83.9,546.0 83.9,528.0 84.8,510.0 87.0,482.0 87.2,474.0 86.2,466.0 80.4,446.0 78.9,438.0 78.9,432.0 81.0,422.0 81.9,412.0 81.8,408.0 79.1,392.0 79.2,386.0 80.0,381.8 82.0,378.0 84.3,376.0 88.0,373.8 92.0,372.5 106.0,369.6 134.0,359.4 148.0,356.0 164.0,355.9 176.0,354.3 180.0,354.5 184.0,356.2 188.0,359.6 192.0,362.1 200.0,365.4 202.0,365.5 208.0,364.2 222.0,358.4 230.0,356.9 239.6,356.0 242.0,355.5 244.1,354.0 241.8,352.0 237.9,350.0 208.0,337.4 204.0,336.1 192.0,334.6 188.0,333.3 186.0,332.0 185.0,330.0 184.8,322.0 183.1,310.0 181.5,290.0 181.5,286.0 182.0,283.3 183.3,280.0 186.0,276.6 191.9,276.0 188.0,275.6 185.2,274.0 178.0,272.1 162.0,269.8 152.0,265.4 147.3,262.0 140.8,252.0 136.0,247.1 134.7,244.0 136.0,236.3 137.9,230.0 142.0,223.6 146.0,219.6 150.0,218.0 156.0,217.6 172.0,220.5 180.0,223.5 184.0,226.3 191.4,234.0 195.2,242.0 198.9,246.0 210.3,254.0 214.6,256.0 222.0,258.5 226.0,260.9 228.0,263.4 229.1,266.0 230.3,280.0 231.6,282.0 236.0,286.1 244.1,296.0 254.4,310.0 255.0,312.0 254.3,316.0 248.5,328.0 248.0,330.0 250.0,332.1 254.0,333.0 260.0,333.3 262.0,334.2 263.3,336.0 264.0,338.6 264.6,352.0 264.0,355.6 261.0,366.0 253.5,380.0 249.2,394.0 244.2,404.0 243.7,408.0 244.9,420.0 244.9,426.0 243.9,432.0 241.8,438.0 242.6,440.0 244.0,441.9 254.0,453.7 258.0,456.5 274.0,464.0 286.0,468.2 304.0,472.2 318.0,478.0 321.9,480.0 324.0,481.6 338.0,495.2 350.0,503.6 356.0,505.7 370.0,507.5 382.0,505.7 386.0,504.0 388.3,502.0 394.0,496.0 396.0,492.4 399.4,482.0 401.3,472.0 402.9,468.0 411.0,460.0 420.0,455.3 424.0,453.7 436.0,450.0 456.0,449.0 466.0,450.3 480.0,453.8 494.0,457.9 498.0,458.3 502.0,457.4 514.0,452.9 530.0,450.4 534.0,448.5 540.7,442.0 543.6,438.0 546.0,432.6 548.5,424.0 548.7,420.0 546.3,412.0 546.6,404.0 546.0,401.2 544.4,398.0 542.0,395.4 538.0,393.6 536.0,393.0 524.0,392.0 520.0,392.7 512.3,398.0 510.0,398.8 508.0,398.7 506.9,398.0 505.7,396.0 505.8,394.0 507.7,392.0 514.0,390.4 522.0,387.5 528.0,384.2 534.0,383.9 564.0,387.1 582.0,388.5 612.0,387.5 632.0,388.6 638.0,389.7 643.1,392.0 648.0,395.6 660.0,410.0 666.3,416.0 678.1,426.0 684.0,429.2 698.0,434.5 702.0,434.6 722.0,432.5 728.0,430.7 740.0,426.2 750.8,420.0 753.2,418.0 754.1,416.0 754.4,412.0 755.4,410.0 763.8,402.0 768.6,396.0 776.5,384.0 778.6,378.0 780.3,368.0 779.8,366.0 776.0,362.3 774.9,360.0 775.0,358.0 776.0,356.0 778.1,354.0 779.2,350.0 777.9,336.0 776.2,330.0 774.6,328.0 772.0,326.6 768.0,325.7 765.7,324.0 764.6,322.0 764.6,320.0 765.4,318.0 766.9,316.0 769.6,314.0 772.0,313.1 816.0,300.0 820.6,298.0 822.6,296.0 828.0,286.0 831.1,282.0 834.2,280.0 854.8,270.0 870.0,260.1 872.0,258.0 872.8,256.0 872.4,250.0 873.0,248.0 874.0,246.8 876.0,245.4 878.0,245.1 880.0,245.5 884.0,247.3 886.0,247.5 892.0,247.1 902.0,245.2 934.0,237.2M401.3,112.0 408.0,110.3 414.0,110.1 422.0,111.4 430.0,114.2 438.0,118.5 446.0,124.3 454.0,131.8 460.0,138.8 466.0,147.2 471.3,156.0 476.0,165.5 478.4,172.0 480.0,179.3 484.1,206.0 485.6,218.0 485.6,222.0 485.1,224.0 483.9,226.0 480.9,228.0 478.0,228.8 468.0,229.6 448.0,228.4 438.0,228.6 424.0,230.8 420.0,232.1 416.0,234.1 410.0,239.2 405.1,246.0 398.8,258.0 390.9,278.0 387.2,284.0 384.0,288.0 377.4,294.0 370.0,298.4 364.0,300.0 358.0,299.7 354.0,298.5 348.8,296.0 339.4,290.0 334.3,286.0 326.0,278.0 324.0,274.6 322.7,270.0 322.6,264.0 324.0,260.2 338.2,244.0 341.3,238.0 343.0,232.0 344.6,222.0 344.5,218.0 342.8,212.0 338.0,200.3 337.8,196.0 339.0,194.0 341.3,192.0 350.0,186.4 356.0,181.9 360.0,178.0 363.3,174.0 367.1,168.0 370.1,162.0 380.0,136.2 385.1,126.0 388.0,121.9 392.0,117.6 396.0,114.6 401.3,112.0M149.9,226.0 156.0,225.1 164.0,226.0 171.1,228.0 176.0,230.8 180.0,235.2 182.2,240.0 182.8,246.0 181.7,250.0 180.0,252.0 177.4,254.0 172.0,257.4 168.0,259.1 164.0,259.7 160.0,259.3 154.0,256.6 150.0,252.8 142.9,244.0 141.8,242.0 141.4,240.0 141.7,236.0 143.3,232.0 146.0,228.5 149.9,226.0M205.1,264.0 206.0,263.3 208.0,262.8 218.0,263.0 222.0,264.0 224.2,266.0 224.6,268.0 223.9,272.0 217.7,286.0 217.3,288.0 218.6,290.0 228.0,296.8 231.2,300.0 234.1,304.0 235.2,308.0 233.8,312.0 228.2,320.0 226.0,322.3 222.0,324.4 218.0,324.6 216.0,323.8 206.0,317.7 198.3,314.0 196.0,311.7 193.5,306.0 190.0,291.8 190.6,290.0 192.0,289.4 198.0,288.7 202.0,287.6 204.3,286.0 205.4,284.0 206.9,274.0 205.1,264.0M574.0,413.6 571.8,416.0 570.9,418.0 574.0,418.4 576.0,417.8 578.2,416.0 578.4,414.0 578.0,413.6 576.0,412.9 574.0,413.6M424.0,591.9 420.0,592.9 418.0,594.2 416.6,596.0 415.6,600.0 416.0,603.1 417.2,606.0 420.0,609.1 422.0,610.2 426.0,611.4 430.0,611.6 434.5,610.0 437.0,608.0 439.3,604.0 439.5,600.0 438.7,598.0 436.9,596.0 433.6,594.0 428.0,592.2 424.0,591.9M116.5,732.0 113.7,702.0 110.5,676.0 106.4,648.0 96.0,585.3 93.4,566.0 91.9,550.0 91.1,534.0 91.0,518.0 93.3,478.0 93.2,470.0 92.0,463.5 85.2,442.0 83.9,434.0 84.3,430.0 87.5,418.0 87.8,414.0 87.3,410.0 83.9,396.0 83.9,390.0 84.7,386.0 86.0,383.2 88.0,380.7 90.0,379.2 96.0,376.6 108.0,372.9 136.0,363.2 150.0,360.2 172.0,359.3 176.0,359.7 178.0,360.3 182.0,363.1 185.6,368.0 188.3,376.0 189.6,378.0 192.0,379.1 198.0,380.0 204.0,379.8 226.0,375.7 230.0,376.1 234.0,377.8 238.0,380.6 240.0,382.6 242.0,386.0 242.5,388.0 242.6,390.0 241.8,394.0 237.8,402.0 236.7,406.0 236.5,410.0 238.0,426.0 236.4,440.0 237.0,444.0 238.4,448.0 240.6,452.0 244.0,456.4 248.0,459.9 252.0,462.6 270.0,472.6 280.0,477.2 294.0,481.1 313.1,492.0 320.0,497.1 334.0,511.8 340.0,516.5 346.0,518.9 354.0,520.2 358.0,521.8 374.0,532.9 380.0,536.2 386.0,537.7 390.0,537.4 394.0,535.8 398.1,532.0 400.2,528.0 403.8,516.0 406.0,512.8 408.0,511.6 418.6,508.0 422.0,505.3 424.0,502.0 424.5,500.0 424.0,496.0 419.3,484.0 417.6,478.0 417.8,474.0 418.8,472.0 420.7,470.0 426.0,467.7 434.0,467.2 454.0,469.8 464.0,469.6 472.0,470.1 500.0,474.4 506.0,474.8 526.0,471.1 532.0,469.0 544.0,462.4 547.2,460.0 557.4,448.0 560.0,444.0 563.1,430.0 569.1,420.0 564.0,417.3 560.0,414.6 557.5,412.0 556.7,410.0 557.3,408.0 560.0,405.3 562.0,404.0 567.3,402.0 572.0,400.9 578.0,400.9 589.7,398.0 596.0,397.3 608.0,397.3 616.0,399.0 620.0,400.8 624.4,404.0 627.9,408.0 633.5,418.0 638.0,421.5 660.0,432.5 676.5,442.0 696.0,449.4 700.0,449.6 704.0,448.9 722.0,443.8 732.0,440.0 746.0,433.5 754.0,429.0 758.3,426.0 762.2,422.0 767.6,414.0 770.0,411.4 774.0,408.7 779.5,406.0 782.0,402.4 786.1,394.0 786.7,392.0 788.0,382.0 789.2,370.0 787.1,358.0 785.9,342.0 786.1,334.0 787.1,326.0 788.7,322.0 790.2,320.0 792.9,318.0 796.8,316.0 816.0,309.3 822.0,306.6 826.0,303.9 832.0,296.4 836.0,293.5 842.0,290.5 858.0,284.1 868.0,277.9 874.0,272.3 877.9,266.0 879.0,260.0 877.6,252.0 878.0,251.3 880.0,250.4 890.0,255.2 900.0,257.4 914.0,258.0 934.0,256.8M417.3,140.0 422.0,139.7 426.0,140.1 434.0,142.4 438.0,144.3 443.7,148.0 448.0,152.0 450.0,154.5 464.0,174.0 466.9,180.0 469.8,192.0 470.3,196.0 468.5,210.0 467.3,212.0 466.0,212.8 464.0,213.1 428.0,207.7 425.3,208.0 422.0,209.7 414.0,216.2 410.0,220.3 401.8,230.0 394.0,240.6 382.2,254.0 380.0,258.4 377.5,272.0 375.6,276.0 370.0,284.9 367.1,288.0 364.0,290.2 360.0,291.2 358.0,290.4 355.0,288.0 345.3,278.0 342.2,274.0 340.8,270.0 339.6,264.0 340.4,260.0 354.2,244.0 355.7,240.0 356.6,232.0 360.1,218.0 362.0,215.1 371.4,206.0 374.3,202.0 382.2,188.0 390.1,170.0 400.0,150.2 404.0,146.0 408.0,143.2 412.0,141.3 417.3,140.0M155.0,236.0 158.0,235.0 162.0,234.7 166.0,235.3 168.0,236.2 170.1,238.0 170.9,240.0 171.2,242.0 169.9,246.0 168.0,248.3 164.0,250.7 162.0,251.0 160.0,250.7 158.7,250.0 156.0,247.2 153.1,242.0 152.7,240.0 153.1,238.0 155.0,236.0M424.0,583.9 414.0,584.8 410.0,585.8 407.7,588.0 406.7,590.0 406.2,594.0 406.8,598.0 410.3,610.0 412.0,613.8 414.0,615.5 416.0,616.4 426.0,619.0 430.0,619.5 436.2,618.0 444.0,615.1 447.3,612.0 450.1,606.0 453.9,600.0 455.0,596.0 454.7,594.0 452.8,592.0 447.4,590.0 430.0,584.9 424.0,583.9M134.5,732.0 130.5,700.0 125.2,668.0 119.4,640.0 104.8,578.0 101.5,560.0 99.1,542.0 97.9,528.0 97.5,514.0 98.8,476.0 98.5,468.0 90.0,436.9 89.3,432.0 90.4,428.0 94.9,418.0 95.1,414.0 90.0,401.4 88.4,396.0 89.0,392.0 90.8,388.0 94.0,384.5 97.8,382.0 104.0,379.2 130.0,369.4 136.0,367.5 152.0,364.4 172.0,363.4 176.0,364.4 178.0,365.6 180.6,368.0 182.7,372.0 184.0,381.2 184.4,382.0 186.0,382.9 208.0,386.4 216.0,389.1 221.6,392.0 226.0,396.0 226.7,398.0 228.0,408.0 231.4,424.0 232.5,432.0 232.5,436.0 231.4,442.0 231.6,448.0 234.0,456.9 239.8,470.0 240.0,475.5 241.2,478.0 241.9,482.0 241.9,498.0 242.7,518.0 244.0,521.8 246.0,523.9 250.0,525.5 252.0,525.4 254.0,524.7 257.0,522.0 258.9,518.0 260.0,512.0 260.4,498.0 260.1,492.0 258.7,484.0 260.0,483.8 284.0,493.5 292.0,498.2 314.0,509.4 316.4,512.0 318.0,514.7 325.0,532.0 328.3,536.0 336.0,542.9 350.0,550.0 365.4,560.0 376.0,564.7 380.0,566.0 382.0,566.2 392.0,565.4 396.0,564.3 410.0,557.3 424.0,548.0 428.0,544.0 434.0,536.3 436.1,532.0 439.8,520.0 442.7,504.0 445.2,498.0 448.0,494.6 450.0,493.1 458.0,488.5 462.0,487.0 466.0,486.2 476.0,485.9 496.0,487.5 516.0,491.4 530.0,492.5 532.8,492.0 536.0,490.6 546.0,484.2 558.4,474.0 559.8,472.0 560.5,470.0 562.2,462.0 564.7,458.0 595.0,428.0 595.7,426.0 595.5,424.0 591.8,412.0 592.5,410.0 594.0,409.4 602.0,408.9 606.0,409.1 610.0,410.2 612.9,412.0 614.1,414.0 614.4,418.0 613.6,422.0 611.1,428.0 612.1,430.0 632.0,444.4 635.4,446.0 638.0,446.5 650.0,446.6 654.0,447.1 658.0,448.7 670.0,456.2 674.0,457.7 694.0,460.0 702.0,460.2 706.0,459.8 722.8,456.0 742.0,447.7 754.0,440.7 766.0,431.4 779.5,418.0 788.0,410.7 790.2,408.0 792.6,404.0 795.0,398.0 797.3,388.0 798.4,372.0 797.8,366.0 794.0,351.0 793.0,344.0 794.8,334.0 796.0,331.1 798.5,328.0 802.0,325.4 814.0,320.5 824.0,315.6 838.0,311.9 849.0,306.0 866.0,297.8 876.0,291.5 890.0,279.5 894.0,277.0 898.0,275.8 904.0,275.5 934.0,277.1M154.2,732.0 148.5,694.0 144.9,676.0 141.1,660.0 133.1,632.0 115.4,578.0 111.0,562.0 107.9,548.0 105.4,532.0 103.9,516.0 103.4,502.0 103.4,470.0 102.5,464.0 99.1,450.0 97.3,436.0 98.1,430.0 102.4,420.0 103.9,414.0 103.4,408.0 99.2,398.0 99.0,396.0 99.5,394.0 102.0,390.6 105.3,388.0 118.0,381.2 128.0,375.0 135.2,372.0 148.0,368.7 166.0,367.0 172.0,367.2 176.0,368.7 179.1,372.0 180.4,376.0 181.2,382.0 182.0,384.0 184.0,385.6 196.0,387.8 202.7,390.0 206.6,392.0 209.2,394.0 212.7,398.0 215.9,404.0 219.1,412.0 223.8,428.0 224.9,434.0 225.1,444.0 226.0,452.0 229.7,470.0 234.0,484.0 234.8,488.0 236.1,518.0 236.9,524.0 238.0,528.0 240.0,532.3 244.0,537.4 248.0,540.3 254.0,542.1 260.0,541.4 263.2,540.0 266.1,538.0 269.7,534.0 272.7,528.0 274.0,522.0 275.1,510.0 276.0,506.6 278.0,504.2 280.6,504.0 290.0,510.4 301.8,516.0 304.8,518.0 307.1,522.0 310.0,532.0 312.5,538.0 316.8,544.0 323.3,550.0 334.0,556.9 354.0,566.4 370.0,577.0 382.0,584.0 386.0,586.9 388.0,589.1 390.0,592.4 400.4,614.0 403.3,618.0 405.3,620.0 410.0,622.7 414.0,623.8 430.0,624.7 436.0,623.8 446.0,621.4 450.0,619.7 455.1,616.0 460.2,610.0 463.2,604.0 464.1,598.0 463.3,594.0 462.0,591.1 460.0,588.4 456.0,585.7 440.0,581.8 426.0,576.7 418.0,576.6 414.6,576.0 409.9,574.0 410.1,572.0 412.3,570.0 426.8,560.0 442.4,550.0 444.8,548.0 448.1,544.0 450.2,540.0 451.4,534.0 451.0,528.0 449.4,518.0 449.5,512.0 450.1,510.0 452.0,506.7 456.0,503.4 460.0,501.7 466.0,500.9 472.0,501.7 478.0,503.7 498.0,514.1 500.0,516.2 502.8,524.0 505.1,526.0 518.0,531.0 522.0,532.0 524.0,531.9 536.0,527.1 540.0,524.9 544.0,521.1 554.7,508.0 566.4,498.0 572.0,493.7 592.0,480.6 598.0,477.5 602.0,476.7 618.0,475.2 654.0,472.5 660.0,472.7 668.0,474.3 674.0,475.0 704.0,473.7 720.0,470.3 742.0,464.6 760.0,461.2 764.0,460.0 768.0,456.6 774.0,448.8 781.8,434.0 784.0,430.9 800.3,412.0 811.6,398.0 815.2,390.0 817.2,384.0 821.3,360.0 822.5,356.0 836.0,338.2 842.0,334.4 860.0,326.7 890.0,311.3 900.0,307.0 906.0,305.2 914.0,303.8 922.0,303.3 934.0,303.4M176.5,732.0 173.2,710.0 169.6,690.0 165.5,672.0 161.5,658.0 156.8,644.0 151.3,630.0 130.0,584.4 122.0,564.8 118.0,553.0 114.4,540.0 111.9,528.0 110.2,516.0 108.9,500.0 108.1,472.0 104.5,450.0 105.4,436.0 106.4,432.0 110.3,422.0 117.8,408.0 120.3,394.0 121.8,390.0 128.0,381.0 130.0,379.1 134.0,376.7 150.0,371.9 166.0,370.4 172.0,370.8 174.7,372.0 176.7,374.0 178.0,377.0 179.5,384.0 182.0,387.3 186.0,388.9 192.5,390.0 197.8,392.0 203.5,396.0 206.5,400.0 209.2,406.0 214.5,422.0 223.4,468.0 229.9,488.0 231.3,526.0 232.6,536.0 234.0,541.1 236.0,545.8 238.5,550.0 242.0,554.1 246.0,557.2 250.0,559.3 254.0,560.6 260.0,561.3 264.0,561.0 270.0,559.9 288.0,553.8 292.0,553.3 296.0,553.6 304.0,556.2 316.0,561.8 336.0,573.3 344.0,574.6 348.0,575.7 354.0,580.3 367.7,594.0 374.5,602.0 386.6,618.0 392.2,624.0 397.4,628.0 402.0,630.4 408.0,632.1 414.0,632.5 434.0,630.3 446.0,628.5 455.2,626.0 460.0,623.6 464.9,620.0 468.5,616.0 472.0,610.0 473.5,604.0 473.2,598.0 471.0,592.0 468.5,588.0 462.0,580.1 458.0,577.0 456.0,576.4 448.0,576.1 440.4,574.0 439.2,572.0 439.3,570.0 441.3,568.0 444.0,567.3 450.0,568.2 454.0,567.5 470.0,559.6 480.0,553.4 484.0,551.8 486.0,551.6 490.0,552.3 508.0,557.1 544.0,564.6 548.0,564.8 552.0,564.2 571.8,560.0 594.0,550.3 606.8,542.0 611.4,538.0 618.0,527.8 620.0,525.4 622.0,523.8 648.0,511.2 656.0,508.6 664.0,507.0 670.0,506.3 680.0,506.6 686.0,503.3 688.0,503.2 690.0,503.6 692.0,504.7 693.4,506.0 694.4,508.0 694.0,516.0 694.2,520.0 696.6,530.0 699.3,536.0 704.9,544.0 714.9,556.0 721.4,562.0 726.0,564.7 730.0,565.4 748.0,564.6 768.0,566.7 772.8,566.0 778.0,564.5 788.5,560.0 797.7,554.0 804.0,548.1 808.8,542.0 813.2,534.0 815.6,528.0 817.9,520.0 823.1,492.0 825.9,480.0 829.4,468.0 834.3,454.0 837.7,446.0 840.8,440.0 852.0,423.3 857.4,414.0 861.0,406.0 868.9,386.0 874.3,376.0 878.8,370.0 884.7,364.0 892.0,358.4 899.5,354.0 908.0,350.2 916.0,347.6 924.0,345.7 934.0,344.2M202.7,732.0 198.7,702.0 194.5,678.0 190.3,660.0 185.0,644.0 179.5,632.0 173.6,622.0 146.0,584.6 140.0,575.6 134.0,565.3 128.0,553.1 123.6,542.0 119.8,530.0 116.6,516.0 114.4,500.0 112.5,470.0 110.5,454.0 110.8,446.0 112.8,436.0 115.0,430.0 118.0,424.0 125.1,412.0 126.9,408.0 128.0,402.0 128.1,392.0 129.8,386.0 132.9,382.0 138.0,379.2 152.0,375.2 166.0,373.9 170.0,374.0 172.0,374.6 174.0,375.9 175.5,378.0 177.8,386.0 180.0,389.2 184.0,391.2 190.0,392.1 194.3,394.0 198.9,398.0 201.4,402.0 204.6,410.0 209.2,424.0 218.8,470.0 225.1,488.0 226.4,516.0 224.8,532.0 224.4,542.0 224.9,550.0 225.9,556.0 227.4,562.0 230.0,568.4 233.4,574.0 237.0,578.0 242.0,581.8 246.0,583.8 250.0,585.1 256.0,586.3 262.0,586.6 268.0,586.4 290.0,583.2 298.0,582.7 308.0,583.7 320.0,587.2 336.0,593.3 344.0,598.0 352.0,605.3 366.7,622.0 374.0,629.5 381.9,636.0 388.0,639.8 394.0,642.6 402.0,645.0 430.0,648.4 436.0,648.2 442.0,646.0 450.0,641.4 466.0,633.8 471.6,630.0 476.2,626.0 481.2,620.0 485.6,612.0 487.1,608.0 488.5,602.0 489.3,590.0 490.0,587.8 492.0,586.2 496.0,585.1 506.0,583.4 540.0,580.0 552.0,577.3 580.0,567.3 598.0,562.3 614.0,553.2 632.0,544.3 638.0,542.1 644.0,540.8 652.0,540.8 666.0,542.7 674.0,544.6 676.3,546.0 680.4,550.0 690.0,556.6 702.0,568.8 707.9,574.0 714.0,577.9 720.0,580.3 726.0,581.4 740.0,581.8 772.0,586.2 779.6,588.0 800.0,594.9 810.0,596.7 816.0,596.9 822.0,596.4 828.0,595.2 836.0,592.5 848.0,586.4 854.0,582.3 860.0,577.4 871.1,566.0 881.4,552.0 888.5,540.0 896.4,524.0 915.3,478.0 922.0,462.9 928.0,451.3 934.0,441.5M163.7,378.0 168.0,377.9 172.0,379.3 174.0,382.0 175.0,388.0 177.8,392.0 182.0,394.1 190.0,395.7 192.7,398.0 195.3,402.0 200.0,414.0 205.9,432.0 213.0,468.0 215.4,476.0 219.3,486.0 220.2,490.0 221.0,514.0 220.7,518.0 208.0,564.6 204.0,574.3 200.0,580.0 196.0,583.4 190.0,585.6 186.0,585.9 180.0,585.1 174.0,583.1 168.0,580.2 162.0,576.4 156.0,571.6 150.0,565.8 144.0,558.8 135.5,546.0 132.0,539.4 128.0,530.2 125.1,522.0 122.4,512.0 119.2,494.0 116.3,456.0 116.4,450.0 119.4,438.0 120.9,434.0 127.9,422.0 135.2,412.0 137.5,408.0 137.9,406.0 137.8,402.0 134.7,392.0 134.3,388.0 135.5,386.0 138.0,384.2 143.3,382.0 152.0,379.5 163.7,378.0M235.1,732.0 233.9,700.0 234.3,678.0 236.0,662.0 238.0,654.0 240.0,648.8 242.7,644.0 245.9,640.0 250.0,636.3 254.0,633.5 260.8,630.0 268.0,627.1 277.6,624.0 286.0,621.9 294.0,620.6 302.0,620.1 310.0,620.6 318.0,622.3 324.0,624.4 332.0,628.5 364.0,650.9 373.0,656.0 382.0,660.1 394.0,663.9 408.0,666.7 422.0,667.9 434.0,667.2 444.0,664.7 452.0,661.3 464.0,654.4 476.0,646.4 488.5,636.0 508.0,614.3 512.7,610.0 518.0,606.2 526.0,601.9 552.0,590.4 574.0,578.3 584.8,576.0 590.0,575.4 600.0,578.2 606.0,578.0 611.3,576.0 624.0,569.0 634.0,565.1 648.0,561.8 662.0,560.7 668.0,562.0 672.0,564.6 691.2,584.0 698.0,590.3 706.0,596.6 722.7,608.0 727.5,612.0 734.0,619.1 749.9,640.0 756.0,646.0 762.0,650.7 772.0,656.4 784.0,660.6 796.0,662.8 810.0,663.1 826.0,661.3 842.0,657.4 858.0,651.5 874.0,643.6 890.0,633.4 904.7,622.0 919.8,608.0 934.0,592.4M163.1,388.0 164.0,387.7 165.3,388.0 166.0,390.1 164.0,390.7 163.1,390.0 163.1,388.0M167.9,400.0 170.0,398.3 182.0,400.5 186.0,402.0 188.0,404.4 200.0,439.3 203.1,452.0 206.7,470.0 212.6,486.0 213.6,490.0 214.3,496.0 214.0,508.2 212.2,518.0 208.0,528.6 202.0,540.3 196.0,548.9 190.0,554.5 184.0,557.7 178.0,559.1 174.0,559.1 168.0,558.0 164.0,556.5 158.0,553.3 152.0,548.7 148.0,544.8 140.0,534.6 133.1,522.0 128.0,508.0 124.4,492.0 122.3,474.0 121.8,460.0 122.4,452.0 124.9,444.0 129.0,436.0 136.0,426.3 144.0,417.8 152.0,411.6 162.0,407.4 165.6,404.0 167.9,400.0M280.3,732.0 284.5,716.0 287.7,708.0 290.9,702.0 294.0,697.5 298.0,693.0 302.0,689.6 308.0,685.9 314.0,683.7 320.0,682.5 326.0,682.0 332.0,682.2 344.0,683.8 382.0,691.0 394.0,692.4 406.0,693.0 418.0,692.6 428.0,691.4 438.0,689.4 446.0,686.9 456.0,682.8 464.0,678.6 472.0,673.8 482.0,666.8 498.0,653.7 526.0,627.5 540.9,616.0 572.0,595.3 578.0,592.5 584.0,591.2 590.0,591.4 602.0,593.3 610.0,593.7 618.0,593.3 638.0,590.5 646.0,590.2 654.0,591.3 662.0,594.4 668.0,598.1 674.0,603.0 689.3,618.0 701.5,632.0 726.0,663.3 734.0,671.9 742.0,679.3 754.0,688.3 766.0,695.2 780.0,701.2 794.0,705.3 810.0,707.9 828.0,708.6 844.0,707.3 862.0,703.9 880.0,698.4 898.0,691.0 916.0,681.6 934.0,670.1M162.0,416.0 166.0,414.4 168.0,414.3 172.0,415.2 176.0,417.3 178.7,420.0 188.8,436.0 193.1,446.0 195.2,452.0 197.7,462.0 199.4,472.0 205.2,486.0 207.3,498.0 206.4,504.0 200.9,518.0 198.0,523.7 194.0,529.5 189.7,534.0 184.0,538.1 180.0,539.9 174.0,541.1 170.0,541.0 166.0,540.3 162.0,539.0 158.0,537.0 154.0,534.2 150.0,530.8 144.0,523.8 138.0,514.1 133.0,502.0 129.6,490.0 127.3,476.0 126.9,468.0 127.1,460.0 128.2,454.0 130.7,448.0 136.0,440.3 146.8,428.0 155.7,420.0 162.0,416.0M390.2,732.0 418.0,725.3 436.0,719.9 452.0,713.7 468.0,705.7 484.0,695.7 500.0,683.6 514.0,671.5 546.0,642.0 564.0,627.7 572.0,622.5 580.0,618.7 588.0,616.7 596.0,616.2 615.4,618.0 632.0,621.3 644.0,625.7 654.0,631.7 662.0,638.4 670.0,646.5 678.0,656.0 701.8,686.0 718.0,703.6 727.2,712.0 736.0,719.0 746.0,726.0 756.2,732.0M926.2,732.0 934.0,728.4M163.9,426.0 166.0,425.5 170.0,425.7 174.0,427.6 178.0,432.4 182.9,440.0 188.7,454.0 192.0,466.0 193.4,474.0 198.5,488.0 199.8,494.0 199.6,500.0 198.2,504.0 194.0,511.0 190.0,516.2 186.0,520.1 182.0,523.0 178.0,524.9 172.0,526.2 168.0,526.0 164.0,525.2 158.0,522.6 152.0,518.0 146.0,511.2 141.6,504.0 137.2,494.0 134.0,483.2 132.0,471.1 131.9,466.0 132.8,460.0 134.2,456.0 137.6,450.0 142.0,444.7 156.0,430.7 160.0,427.8 163.9,426.0M488.4,732.0 512.0,714.6 552.0,681.3 568.0,669.5 576.0,664.8 584.0,661.3 592.0,659.3 600.0,658.8 609.7,660.0 618.0,662.6 628.0,667.8 636.0,673.5 642.0,678.6 650.0,686.4 678.3,718.0 691.7,732.0M162.8,438.0 168.0,437.0 172.0,438.1 174.4,440.0 178.0,445.6 181.5,454.0 187.9,480.0 192.0,494.0 191.8,498.0 190.0,501.0 188.0,503.1 180.0,509.4 176.0,511.3 172.0,512.3 166.0,512.1 160.0,509.9 156.0,507.3 150.6,502.0 146.0,495.4 142.4,488.0 139.8,480.0 138.1,472.0 137.8,468.0 138.4,464.0 139.9,460.0 142.2,456.0 148.0,449.2 154.0,443.4 158.0,440.4 162.8,438.0M157.4,452.0 160.0,450.8 164.0,450.1 168.0,450.8 170.0,451.8 172.0,453.4 174.0,456.0 176.0,461.2 178.6,472.0 178.8,478.0 178.0,485.4 176.7,490.0 175.7,492.0 174.0,494.3 172.0,496.0 170.0,496.7 168.0,497.0 164.0,496.5 160.0,494.8 156.2,492.0 151.2,486.0 147.5,478.0 146.2,470.0 146.9,464.0 148.0,461.3 150.2,458.0 154.0,454.3 157.4,452.0M159.0,466.0 160.0,465.5 162.0,465.4 164.0,466.9 164.9,470.0 164.0,472.6 162.0,473.6 160.0,472.9 159.2,472.0 158.0,470.1 157.8,468.0 159.0,466.0" fill="none" stroke="#fff" stroke-width="2.1" stroke-linejoin="round" stroke-linecap="round"/>
<ellipse cx="527.4" cy="297" rx="2.2" ry="7.6" fill="#ffc03c" stroke="#fff" stroke-width="1.7"/>
<path d="M386.3,371.5V375.5M577.6,265.4V267.2" stroke="#fff" stroke-width="2.4" fill="none"/>
</g>
<path d="M53.7,77.9 56.1,79.9 55.1,81.8 58.1,83.8 59.5,86.2 63.4,86.7 68.3,85.7 69.8,83.8 68.8,87.2 66.4,88.6 63.4,90.6 62.3,92.1 64.4,94.5 69.3,98.4 74.2,102.3 79.1,105.7 83.0,107.7 85.9,107.2 85.4,103.3 85.9,99.4 84.4,95.0 84.9,91.6 83.0,88.6 81.0,85.7 78.1,82.8 75.2,80.3 72.7,78.4M79.1,77.9 81.0,79.9 83.0,78.9M83.9,78.4 84.4,80.8 86.9,82.8 90.8,84.3 93.7,81.3 95.7,81.8 93.7,84.7 93.2,88.6 97.6,88.6 95.7,90.1 93.2,90.6 92.7,93.5 89.8,95.0 91.8,96.0 96.2,96.0 98.6,97.4M29.3,327.0 34.2,327.9 39.1,328.9 44.9,330.5 50.8,331.2M97.0,468.0 98.6,471.0 99.4,474.2 100.0,477.5 101.0,480.8 101.5,484.2 102.5,487.5 103.8,490.7 104.6,494.1 105.0,497.5 106.1,500.8 106.4,504.2 107.5,507.5 108.3,511.2 108.0,515.0 108.8,518.8 109.0,522.5 110.0,526.2 110.0,530.0 112.1,532.5 114.2,535.0 116.2,537.5 118.4,539.9 120.0,542.9 122.5,545.0 124.6,547.2 126.3,549.7 127.5,552.5 128.7,555.3 130.9,557.4 132.5,560.0 134.1,563.6 135.0,567.5 133.5,570.5 131.8,573.4 130.0,576.2 127.0,575.7 124.0,576.6 121.0,576.6 118.0,576.1 115.0,576.2 117.0,579.2 118.7,582.4 121.2,585.0 122.6,587.7 124.7,589.9 126.2,592.5 129.0,594.7 131.0,597.8 133.8,600.0 135.2,602.9 137.5,605.0 141.1,603.2 145.0,602.5 146.0,606.3 147.5,610.0 149.7,612.8 152.4,615.1 155.0,617.5 156.9,619.8 158.0,622.7 160.0,625.0 160.1,628.4 161.2,631.6 161.2,635.0 160.5,638.7 160.0,642.5 159.1,645.8 158.0,649.0 156.2,652.0 157.5,655.0 160.7,656.7 163.8,658.8 167.5,662.5 170.1,664.9 172.6,667.4 175.0,670.0 177.4,672.6 179.7,675.3 182.5,677.5 184.6,680.0 187.1,682.1 190.0,683.8 190.7,687.1 192.5,690.0 192.8,693.2 193.8,696.2 196.9,696.0 200.0,696.2 202.9,693.4 206.2,691.2 208.0,686.2 205.0,681.2 203.9,678.1 202.5,675.0 200.7,671.2 198.8,667.5 195.5,668.6 192.5,670.0 189.7,668.5 187.5,666.2 185.9,663.3 185.0,660.0 186.7,656.4 187.5,652.5M133.8,490.0 133.8,493.4 133.3,496.7 132.5,500.0 132.3,503.4 131.2,506.6 131.2,510.0 131.3,513.0 131.0,516.0 131.7,519.0 131.2,522.0 131.2,525.0 131.7,528.4 132.9,531.7 133.8,535.0 135.4,537.8 137.6,540.3 140.0,542.5 141.8,544.9 143.8,547.2 145.0,550.0 146.0,553.8 147.5,557.5 149.5,559.8 151.3,562.2 152.5,565.0 153.5,568.4 154.6,571.8 156.2,575.0 156.5,578.8 157.5,582.5 158.7,586.1 161.2,589.0 162.5,592.5 164.8,596.0 166.2,600.0 168.5,603.5 170.0,607.5 171.6,610.4 174.5,612.2 176.2,615.0 177.5,618.2 178.5,621.5 178.8,625.0 179.7,628.3 180.1,631.6 180.0,635.0 181.8,638.3 183.7,641.5 185.0,645.0 186.5,648.4 187.5,652.0M133.8,490.0 136.8,492.6 140.0,495.0 143.0,497.6 146.2,500.0 150.0,500.0 152.2,503.4 155.0,506.2 158.0,507.7 160.7,509.7 163.8,511.2 162.7,515.6 162.5,520.0 162.4,523.4 163.7,526.6 163.8,530.0 164.4,533.4 165.3,536.7 166.2,540.0 167.5,543.3 168.2,546.9 170.0,550.0 170.8,553.3 171.7,556.7 172.5,560.0 173.2,563.9 175.0,567.5 176.5,570.1 178.5,572.4 180.0,575.0 181.9,577.4 183.3,580.0 185.0,582.5 187.9,584.6 190.0,587.5 192.9,588.5 195.8,589.4 198.8,590.0 198.2,593.8 197.5,597.5 198.8,600.2 200.4,602.8 202.5,605.0 205.6,606.9 208.8,608.8 209.2,612.5 210.0,616.2 214.0,617.7 217.5,620.0 219.9,623.5 221.2,627.5 218.3,629.6 216.2,632.5 216.5,636.2 216.2,640.0 219.3,641.4 221.8,643.7 225.0,645.0 227.3,647.7 230.0,650.0 232.5,652.0 235.3,653.8 237.5,656.2 238.5,659.1 239.5,662.0 240.0,665.0 242.7,666.9 245.4,668.7 247.5,671.2 250.0,674.2 252.7,676.9 255.0,680.0 257.0,682.4 259.1,684.8 261.0,687.2 262.5,690.0 265.1,693.0 266.3,696.9 268.8,700.0 271.0,703.1 273.7,705.9 276.2,708.8 278.3,711.4 279.9,714.4 281.2,717.5 281.9,720.6 281.8,723.7 282.3,726.8 282.0,730.0M456.2,652.5 456.2,660.0 452.5,667.5 450.0,672.0 447.0,685.0 444.0,700.0 442.5,715.0 442.5,730.0M841.2,655.0 846.2,653.8M887.5,80.0 880.6,85.9 874.8,88.8 870.9,95.6 867.0,101.5 865.0,109.3 862.1,115.2 860.1,119.1 859.1,126.9 856.2,134.7 852.3,142.5 847.4,148.4 839.6,155.2 833.8,160.1 827.9,166.9 823.0,173.8 819.1,181.6 816.2,187.4 811.3,194.3 803.5,202.1M903.1,80.0 894.3,85.9 886.5,92.7 878.7,100.5 872.8,108.3 867.9,116.1 864.0,124.9 860.1,133.7 855.2,142.5 849.4,147.4M840.6,115.2 849.4,114.8 860.1,116.1M808.4,188.4 815.2,187.4 819.1,181.6M904.1,105.4 908.0,102.5 913.8,99.5 921.6,99.5 927.5,96.6 930.4,93.7M911.9,102.5 919.7,104.4 923.6,107.3 930.4,103.4M918.7,173.8 923.6,165.9 930.4,162.0M808.3,188.8 813.8,188.0 818.4,184.8 820.8,180.9M822.7,378.6 825.7,384.4 828.6,389.3 832.5,394.2 836.4,400.0 838.8,404.9 838.4,412.7 833.5,415.7 829.6,419.6 827.6,423.5 824.7,428.4 824.2,429.8M710.0,725.0 712.4,723.2 714.9,721.4 717.5,720.0 718.4,716.1 720.0,712.5 722.8,710.7 725.0,708.4 727.5,706.2 730.7,704.9 733.8,703.2 736.8,701.5 740.0,700.0 743.1,699.0 746.0,697.6 749.1,696.5 752.1,695.1 755.0,693.8 758.1,693.3 761.0,692.2 763.9,691.2 766.9,690.4 770.0,690.0 773.3,690.4 776.7,690.0 780.0,690.5 783.1,690.2 786.3,689.7 789.3,688.8 792.5,688.8 795.8,689.6 799.2,689.5 802.5,690.5 805.7,691.9 809.1,693.0 812.5,693.8 816.4,695.4 820.0,697.5 823.3,697.9 826.7,698.1 830.0,698.0 833.4,698.1 836.6,699.2 840.0,699.5 843.4,700.1 846.5,701.9 850.0,702.5 853.3,703.9 856.5,705.4 860.0,706.2 863.4,706.2 866.7,706.9 870.0,707.5 873.3,708.4 876.6,709.3 880.0,710.0 883.4,710.4 886.6,711.7 890.0,712.0 893.1,712.8 896.3,712.7 899.4,713.0 902.5,713.8 902.5,717.5 905.6,717.5 908.7,717.2 911.9,717.3 915.0,717.0 918.3,717.8 921.7,718.6 925.0,719.5 927.9,720.3 930.5,722.0M710.0,725.0 713.7,725.8 717.5,726.2 719.7,724.0 722.5,722.5 724.9,720.6 727.3,718.9 730.0,717.5 732.7,715.2 735.1,712.6 737.5,710.0 741.0,708.7 744.0,706.3 747.5,705.0 750.6,704.2 753.6,703.0 756.8,702.5 760.0,702.0 763.3,701.8 766.6,701.0 770.0,701.2 771.2,705.0 768.2,706.5 765.0,707.5 770.0,710.0 773.7,710.8 777.5,711.2 780.6,710.0 783.8,708.8 787.0,709.7 790.0,711.2 793.3,710.9 796.7,710.7 800.0,710.0 804.0,711.4 807.5,713.8 810.8,714.6 814.1,715.1 817.5,715.5 820.8,715.6 824.2,715.7 827.5,716.2 830.9,715.9 834.1,714.4 837.5,713.8 840.2,715.3 842.5,717.5 844.1,720.5 845.0,723.8 848.6,725.9 852.5,727.5 855.6,728.1 858.7,728.8 861.8,729.2 865.0,729.5 869.4,730.0 873.8,730.5M98.8,95.0 120.0,102.7 150.0,110.3 177.5,116.8 191.2,119.4 220.0,124.6 250.0,129.8 280.0,134.3 310.0,138.3 346.0,142.3 380.0,147.3" fill="none" stroke="#000" stroke-width="1.4" stroke-linejoin="round" stroke-linecap="round"/>
<path d="M148.8,544.5 152.5,546.2 154.5,552.5 153.8,557.0 150.0,555.0 147.5,548.8ZM166.2,556.2 170.5,555.0 172.5,558.8 170.0,564.5 166.2,565.0 165.0,560.5ZM110.0,564.5 112.5,563.8 113.2,567.5 111.2,570.5 109.2,568.8ZM127.5,577.5 130.0,577.0 131.2,581.2 128.8,582.5ZM170.5,608.8 173.0,610.0 173.8,613.8 171.2,613.8ZM180.0,627.0 182.5,626.2 182.0,631.2 180.0,631.2ZM585.0,556.2 590.0,553.8 596.2,556.2 597.5,560.0 591.2,562.0 586.2,560.0ZM811.2,607.5 816.2,610.0 823.8,605.5 832.5,603.0 823.8,604.0 817.0,606.5ZM831.2,598.0 840.0,598.8 846.2,602.5 850.0,607.5 848.8,617.5 845.0,615.0 847.0,607.5 842.5,602.5 836.2,600.0ZM833.8,636.2 838.8,638.8 842.5,645.0 845.0,651.2 850.0,656.2 851.2,663.8 846.2,664.5 841.2,657.5 836.2,652.5 831.2,648.8 832.5,642.5ZM846.2,635.5 851.2,635.0 851.2,637.0 846.8,637.5ZM909.2,643.0 911.2,643.0 911.2,646.5 909.2,646.5ZM579.4,170.3 584.9,166.4 590.4,164.1 591.2,165.6 585.7,168.8 581.0,171.9ZM171.5,579.0 173.0,581.0 172.0,583.0 170.5,581.0ZM181.5,626.5 183.5,628.5 182.0,631.0 180.5,629.0ZM187.5,650.0 189.5,651.0 188.5,654.0 187.0,653.0ZM200.8,667.5 202.3,668.5 201.8,671.0 200.3,670.0ZM746.2,721.2 752.5,720.5 757.5,725.0 755.0,729.5 746.2,728.8 745.0,725.0Z" fill="none" stroke="#000" stroke-width="1.4" stroke-linejoin="round"/>
<path d="M62.5,150.1 68.4,151.6 74.2,154.0 76.3,156.6 77.1,159.8 77.4,163.3 78.1,166.7 80.5,169.4 84.0,170.0 87.9,170.2 91.8,169.6 95.1,170.5 98.4,171.1 101.6,172.5 105.5,172.0 109.3,174.4 113.3,173.5 117.1,174.5 121.1,173.5 125.0,174.5 128.9,175.1 132.8,175.7 136.7,175.5 140.4,177.2 144.6,176.4 148.5,177.2 152.3,178.4 155.7,178.3 158.6,179.9 161.7,181.3 165.0,180.9M165.0,180.9 177.3,117.9M165.0,181.0 167.3,183.4 167.3,187.0 169.5,189.5 166.9,191.7 166.2,195.2 164.7,198.0 162.5,200.5 160.9,203.6 159.0,206.5 156.0,208.5 154.9,212.0 152.5,214.8 155.5,219.8 155.4,223.2 153.1,226.0 153.9,229.6 153.1,232.8 150.5,235.5 149.8,238.7 151.0,242.4 149.6,245.4 147.2,248.2 147.9,251.8 146.5,254.8 145.6,258.0 144.9,261.2 144.5,264.5M31.2,236.1 97.7,255.7 144.5,264.5 191.4,276.2 237.5,283.2M97.7,255.7 81.1,318.2 102.5,350.0 95.7,340.0 152.3,423.0 154.3,431.8 157.2,440.6 151.4,445.5 147.5,453.3 144.5,460.1 142.6,465.0 145.5,469.9 143.6,472.4M191.4,276.2 176.8,350.0 178.7,340.0 169.5,385.9 167.0,400.5 164.1,403.5 160.2,400.5 155.3,399.6 153.3,404.5 152.3,423.0M515.0,487.5 515.5,499.5M515.5,499.5 516.7,502.9 516.8,506.3 516.1,509.7 517.0,513.1 515.1,516.6 516.2,520.0 518.8,522.5 519.2,526.0 521.1,528.8 521.5,532.4 523.8,535.0 525.0,539.1 525.0,543.3 525.0,547.5 524.6,551.7 524.0,556.0 522.5,560.0 522.9,564.0 521.0,567.5 520.0,571.2M515.5,499.5 566.2,498.0M560.8,541.2 564.0,542.1 567.2,540.3 570.4,539.9 573.6,539.8 576.9,541.3 580.1,541.5 583.4,541.7 586.6,540.8 589.8,540.6 593.0,540.6 596.2,540.0 595.7,543.8 595.0,547.5 597.4,551.3 600.0,555.0 605.0,556.2M620.0,450.8 619.5,460.0 618.8,522.5 621.2,542.5 621.8,552.5M640.0,550.0 636.2,537.5 683.8,532.5M667.0,460.0 667.0,463.4 669.7,466.0 669.3,469.6 671.5,472.3 671.4,475.8 673.4,478.6 673.7,482.0 675.0,485.0 676.0,488.4 678.7,491.2 678.3,495.2 680.8,498.0 681.2,501.7 682.5,505.0 680.9,509.0 680.5,513.3 680.0,517.5 680.3,521.4 682.4,524.9 682.8,528.7 683.8,532.5M683.8,532.5 687.5,537.5 690.9,538.4 694.2,537.2 697.5,536.1 700.9,537.9 704.2,536.3 707.5,537.0 710.8,534.9 714.1,535.1 717.6,536.9 720.9,536.3 724.1,534.1 727.5,535.0 730.8,534.7 734.1,534.0 737.5,534.5 740.0,538.8 739.3,534.3 740.5,530.0 743.6,528.9 746.6,527.8 750.0,528.0M703.8,447.5 707.5,440.0 720.0,435.0 743.8,433.0 748.8,438.0 767.5,436.2 792.5,452.0M703.8,447.5 707.0,449.5 710.0,451.7 711.9,455.3 715.0,457.5 718.0,459.5 719.8,462.7 723.1,464.4 724.2,468.3 727.5,470.0 729.7,472.3 732.8,473.6 735.7,475.1 737.0,478.7 740.0,480.0 741.7,483.9 745.3,486.4 747.5,490.0 750.4,492.3 750.7,496.5 753.8,498.8 755.5,497.5M739.5,276.2 739.5,280.9 809.1,267.2 813.8,271.6 816.9,276.2 830.0,280.9M816.2,275.9 821.1,278.8 820.5,282.7 820.1,286.6 821.5,290.4 820.3,294.6 822.0,298.4 824.7,301.5 827.9,304.2 825.8,307.0 824.0,310.1 820.3,311.7 818.1,315.0 815.2,317.9M815.2,317.9 817.1,321.8 820.1,342.3 830.8,340.4M834.7,230.0 837.1,260.3 838.6,269.1 841.6,276.9 837.7,281.2M837.1,260.3 867.0,252.5 872.8,251.5 874.8,259.3M867.0,252.5 868.5,266.1M838.6,243.7 868.9,236.8 876.7,232.9M849.4,191.3 848.7,194.7 848.0,198.1 847.4,201.5 847.4,205.0 847.7,209.1 849.4,212.8 848.8,216.2 848.3,219.6 849.5,223.2 848.6,226.6 848.4,230.0 848.0,233.3 848.8,236.5 849.4,239.8M874.8,225.5 858.2,183.5M825.9,196.6 826.2,200.1 826.3,203.5 826.9,207.0 828.4,210.1 827.8,213.8 829.8,216.7 830.8,220.8 832.8,224.5 833.8,230.0M826.2,170.0 820.0,182.5 813.8,190.3 807.5,198.1 802.8,202.0 795.0,209.1 788.8,218.4 782.5,227.8 779.4,237.2 748.1,243.8 743.4,247.8 748.1,253.6 750.5,259.8 741.9,266.9 732.5,273.9 723.1,278.6 715.3,280.9 709.1,285.6 703.6,290.0M670.0,209.1 685.6,215.3 697.3,252.8 693.4,265.3M715.0,287.5 700.0,296.2 692.5,299.5M556.0,166.4 571.6,169.5 591.2,161.2 645.8,186.7 649.8,193.8 656.0,193.0 659.1,200.0 665.4,201.6 668.5,204.7 685.7,215.3 696.6,253.1 693.5,265.6M563.8,200.8 567.3,203.3 571.6,203.9 575.8,204.7 579.4,207.0 583.1,209.3 587.2,210.2 591.1,211.0 595.1,211.7 600.5,214.1 602.9,218.8 604.4,223.4 606.8,226.6 608.3,230.5M462.2,150.2 463.1,153.6 463.5,157.1 463.0,160.6 464.0,164.2 465.4,167.7 465.3,171.6 466.1,175.2 467.3,178.7 466.9,182.5 467.3,186.2 467.8,189.8 468.4,193.4 469.2,197.0 468.5,200.8 469.7,204.4 471.4,208.9 470.8,213.8M191.2,121.2 191.2,124.9 190.1,128.4 189.3,131.9 189.7,135.6 188.1,139.0 187.5,142.5 187.2,146.5 189.0,150.0 190.0,153.8 191.6,156.7 192.7,159.9 195.0,162.5 197.6,166.2 200.0,170.0 203.5,172.1 206.2,175.0 204.2,178.0 204.5,182.0 202.5,185.0 200.3,188.0 199.1,191.3 198.8,195.0 203.8,198.8 207.5,197.5 208.6,201.3 210.0,205.0 210.8,208.3 212.7,211.4 212.5,215.0 215.6,216.9 217.5,220.0 218.8,226.2 223.0,227.5 227.5,227.5 231.3,227.8 235.0,227.0 238.8,226.3 242.5,225.0 246.2,230.0M248.0,219.5 355.0,232.5M248.0,219.5 246.2,230.0 240.0,272.0M362.5,146.2 358.8,212.5 355.0,232.5 353.0,276.2 350.0,302.0M358.8,212.5 470.0,216.2M353.0,276.2 440.0,281.2 446.2,285.0M470.0,216.2 468.2,219.8 467.5,223.8 470.6,226.4 472.5,230.0 473.5,233.3 472.8,236.7 471.8,240.0 473.0,243.3 471.5,246.7 472.2,250.0 472.5,253.3 472.2,256.7 472.3,260.0 472.5,263.3 471.7,266.7 472.5,270.0M472.5,270.0 553.8,268.8M536.2,198.8 536.8,202.3 535.7,205.6 534.6,209.0 535.0,212.5 532.1,214.6 530.0,217.5 528.2,221.1 527.5,225.0 528.5,228.3 528.4,231.8 530.0,235.0 532.4,238.8 535.0,242.5 538.2,244.3 540.1,247.4 542.5,250.0M244.5,250.0 235.5,305.5M235.5,305.5 267.5,311.2 349.5,317.5 381.2,322.0 380.0,343.8 436.0,345.0M353.8,250.0 349.5,317.5M267.5,311.2 255.0,397.5M169.5,385.9 200.0,388.0 255.0,397.5 359.5,408.0 375.5,408.8 436.0,410.5M380.0,343.8 375.5,408.8M420.0,280.0 423.3,281.2 426.7,280.0 430.0,281.4 433.3,282.0 436.7,280.6 440.0,281.2 443.5,283.7 447.5,285.0 450.8,284.2 454.1,283.3 457.5,283.8 462.0,285.3 466.2,287.5 471.2,291.2 471.9,295.2 473.8,298.8 476.2,301.7 476.7,305.6 478.8,308.8 480.7,313.0 482.0,317.5 483.0,320.8 482.5,324.2 482.5,327.5 484.0,331.2 485.0,335.0 487.0,338.7 488.8,342.5 490.5,346.2 493.8,348.8 493.3,352.7 495.0,356.2 498.8,361.2 502.5,365.0 503.2,368.4 501.4,371.8 502.4,375.2 501.6,378.6 502.0,382.0 502.8,385.4 503.5,388.7 501.9,392.2 501.7,395.6 502.7,398.9 504.0,402.3 502.3,405.7 502.5,409.1 503.2,412.5 502.9,416.0 503.2,419.4 505.0,422.5 504.0,425.8 504.8,429.0 505.9,432.2 505.8,435.5 506.0,438.8 506.2,442.0M472.5,270.0 470.0,272.5 469.8,276.4 471.2,280.0 470.4,283.7 470.0,287.5 471.2,291.2M485.0,335.0 550.0,332.0 555.0,336.2M420.0,345.0 490.0,346.2M420.0,410.0 503.2,412.5M505.0,423.0 582.5,421.2 583.8,427.5 578.8,431.2 590.0,430.0M542.5,250.0 544.9,252.6 548.0,254.5 550.0,257.5 551.5,261.9 555.0,265.0 555.0,269.6 557.0,273.8 556.2,280.0 560.0,285.0 563.2,287.2 566.2,289.5 567.8,292.5 570.0,295.0 573.0,300.0 573.5,303.8 572.5,307.5 570.5,310.5 567.5,312.5 564.6,314.8 561.2,316.2 560.0,322.5 561.2,327.5 557.5,332.5 555.0,336.2 554.3,340.0 554.5,343.8 556.1,346.7 556.2,350.0 557.8,353.9 561.2,356.2 564.5,358.0 566.2,361.2 568.8,364.0 570.0,367.5 576.2,368.8 578.1,371.6 578.0,375.0 576.5,377.9 576.2,381.2 580.0,386.2 583.3,388.5 586.2,391.2 588.8,394.3 591.2,397.5 592.5,403.8 596.2,408.8 598.0,412.5 597.5,416.3 596.2,420.0 592.5,425.0 590.0,430.0M566.2,289.5 610.0,287.0M620.0,303.8 620.0,355.0 621.1,358.7 621.2,362.5 622.7,366.1 622.5,370.0 620.3,373.6 618.8,377.5 617.9,382.3 615.0,386.2 613.8,390.0M596.2,408.8 600.0,405.0 603.6,404.9 606.2,402.5 608.7,399.9 611.2,397.5 613.0,393.9 613.8,390.0 617.2,388.6 620.0,386.2 623.8,385.9 627.5,387.0 632.5,386.2 635.9,384.0 640.0,383.8 642.7,381.4 645.0,378.8 647.6,376.1 651.2,375.0 653.5,371.7 656.2,368.8 659.4,366.9 661.2,363.8 664.9,362.7 667.5,360.0 666.2,356.2M627.5,300.5 660.5,298.0 676.0,296.2 661.2,298.8 692.5,295.0M596.2,420.0 617.5,415.0 621.2,413.8 676.0,408.8M660.5,298.8 667.0,356.2M667.0,356.2 672.5,357.5 677.5,360.0 681.3,360.9 685.0,359.5 688.4,361.9 692.5,362.5 696.4,361.8 700.0,360.0 703.6,362.0 706.2,365.0 707.1,361.5 709.3,358.5 710.0,355.0 713.0,353.0 715.0,350.0 715.8,346.3 718.8,343.8 723.8,340.0 725.7,336.9 728.8,335.0 730.9,331.6 731.2,327.5 730.9,323.6 732.5,320.0 731.2,313.8 731.3,310.3 730.2,306.9 730.7,303.4 730.0,300.0 730.6,296.2 729.6,292.5 728.8,288.8 728.8,285.0M731.2,313.8 735.8,331.2M735.8,331.2 753.8,328.8 755.0,340.0 762.5,333.8 765.0,328.8 812.5,318.8M765.0,328.8 767.5,331.2 770.4,329.5 773.5,328.3 776.2,326.2 779.2,329.0 782.5,331.2 783.8,336.2 788.0,338.0 792.5,338.8 797.5,341.2 795.9,345.5 796.2,350.0M772.5,332.5 770.8,336.1 771.2,340.0 769.6,343.3 767.5,346.2 762.5,350.0 758.9,351.9 756.2,355.0 755.6,358.9 753.8,362.5 751.9,366.9 750.0,371.2 749.3,375.2 747.5,378.8 743.7,379.9 740.0,381.2 736.2,386.2 732.8,388.5 728.8,388.8 722.5,390.0 719.9,387.6 717.5,385.0 714.0,382.2 711.2,378.8 707.8,375.6 706.2,371.2 706.2,365.0M706.2,365.0 706.3,368.5 708.6,371.5 708.8,375.0 710.0,378.2 712.9,380.0 715.0,382.5 717.7,384.6 720.0,387.0 717.3,389.5 715.6,392.9 712.5,395.0 709.2,398.1 705.0,400.0 702.6,402.2 700.4,404.7 697.5,406.2M640.0,412.5 697.5,406.2 825.0,386.2M727.5,403.8 725.9,407.6 722.5,410.0 718.2,411.7 715.0,415.0 712.1,417.1 710.9,420.9 707.5,422.5 703.7,424.9 700.0,427.5 697.1,430.5 692.8,431.7 690.0,435.0 687.3,438.1 686.2,442.0M503.8,412.5 505.0,423.8 507.5,482.5 515.0,487.5M420.0,467.5 422.1,471.0 425.0,473.8 428.1,475.6 432.0,474.2 435.0,476.2 438.1,478.2 441.5,478.7 445.0,478.8 448.7,479.0 451.4,482.0 455.0,482.5 458.4,482.8 461.6,480.9 465.0,481.2 468.4,483.6 472.5,483.8 475.8,482.6 479.1,482.0 482.5,481.2 485.9,481.2 489.2,480.9 492.5,480.0 496.0,482.4 500.0,483.8 503.9,484.5 507.5,486.2 511.3,486.8 515.0,487.5M590.0,431.2 589.6,435.3 587.5,438.8 585.4,442.4 583.8,446.2 582.6,450.4 580.0,453.8 578.0,457.3 577.0,461.2 575.1,464.9 573.8,468.8 572.1,472.6 570.0,476.2 568.5,479.9 567.5,483.8 566.7,487.5 566.2,491.2 567.5,497.5 569.6,501.0 569.5,505.0 570.7,508.8 572.0,512.5 570.1,516.1 568.8,520.0 566.8,523.7 565.0,527.5 562.9,530.3 562.5,533.8 561.3,537.4 561.2,541.2M583.8,453.0 676.0,445.5 704.0,440.0M663.8,447.0 676.0,490.0M257.0,390.0 239.5,519.5M358.8,408.0 350.0,517.0 285.0,513.0M358.8,419.5 409.5,422.0 408.8,463.8 412.3,465.7 415.0,468.8 418.6,470.5 422.5,470.0M816.2,275.9 822.0,278.4 836.7,282.7" fill="none" stroke="#000" stroke-width="1.8" stroke-linejoin="round" stroke-linecap="round"/>
<path d="M65.6,100.9 64.6,106.1 65.4,112.0 65.6,115.5 67.0,118.8 66.2,122.7 66.6,126.6 67.4,132.1 68.8,135.4 65.4,137.4 64.5,142.3 62.9,147.1 62.5,150.1 61.7,154.0 60.4,156.8 60.2,159.8 59.7,163.4 58.2,166.7 56.8,170.1 55.7,173.5 54.5,177.0 53.1,180.4 51.9,183.8 50.8,187.2 50.1,190.8 48.4,194.0 47.6,197.6 45.9,200.9 43.4,205.7 40.0,209.1 38.6,211.8 37.1,214.5 34.8,220.0 33.2,221.5 32.9,225.5 31.8,229.3 31.6,232.7 31.2,236.1 31.4,240.6 30.3,244.9 29.9,248.3 28.0,251.3 27.3,254.7 26.0,257.7 24.4,260.5 22.0,264.0 19.5,267.4 19.5,270.8 20.1,274.2 21.8,278.1 23.0,282.0 23.1,286.0 21.9,289.8 21.2,293.1 21.2,296.3 21.1,299.6 21.7,302.9 22.5,306.2 23.4,309.4 24.0,312.9 26.0,315.8 27.0,319.1 27.8,323.2 29.3,327.0 30.9,330.8 32.2,334.8 31.6,338.7 31.2,342.6 31.5,346.3 32.2,350.0 34.4,352.7 36.1,355.6 37.0,359.5 36.8,363.4 37.1,367.3 38.3,371.4 40.0,375.2 41.2,378.5 42.7,381.6 43.9,384.9 45.1,387.9 47.0,390.6 47.9,393.7 48.6,397.1 48.4,400.5 48.0,403.5 46.7,406.3 46.5,409.3 50.8,413.2 54.8,413.8 58.6,415.2 61.8,416.2 64.5,418.1 67.4,421.2 69.3,425.0 72.6,425.8 75.2,427.9 80.1,430.8 81.4,433.7 82.0,436.7 84.4,438.7 86.9,440.6 89.0,443.8 91.8,446.4 94.0,449.7 95.7,453.3 96.4,457.2 96.7,461.1 97.5,464.5 97.7,467.9 97.0,468.0 145.5,472.5 139.5,477.0 201.2,514.5 253.8,521.2 255.0,513.0 285.0,513.0 287.5,516.1 290.2,519.2 292.5,522.5 295.5,525.5 297.0,529.5 300.0,532.5 303.1,534.4 305.0,537.5 307.5,540.0 309.1,542.9 312.2,544.6 313.8,547.5 314.5,551.7 315.2,555.9 316.2,560.0 318.9,562.0 320.6,564.9 322.5,567.5 324.8,569.8 327.5,571.6 330.0,573.8 332.8,575.9 336.0,577.5 340.2,579.3 343.8,582.0 345.9,578.3 348.8,575.0 350.7,570.7 353.8,567.0 357.5,566.0 361.2,565.0 364.6,566.2 368.1,566.1 371.5,566.9 375.0,567.0 377.6,569.1 379.7,571.8 382.5,573.8 385.1,575.8 386.9,578.5 388.8,581.2 390.2,584.3 391.8,587.3 393.8,590.0 395.5,593.3 397.7,596.4 398.8,600.0 401.6,603.5 403.8,607.5 406.2,610.1 408.2,613.1 410.0,616.2 410.8,620.8 412.5,625.0 414.2,628.2 414.4,631.9 416.2,635.0 417.6,638.8 420.0,642.0 424.1,643.5 427.5,646.2 431.3,646.9 435.0,648.0 438.3,648.7 441.8,648.6 445.0,650.0 448.8,650.7 452.4,652.3 456.2,652.5 456.2,652.5 454.8,649.3 454.9,645.8 453.8,642.5 453.4,639.1 452.5,635.8 452.0,632.5 451.8,629.1 453.2,625.9 453.0,622.5 454.6,619.8 455.2,616.7 456.2,613.8 457.9,611.3 459.2,608.5 461.2,606.2 463.7,602.5 467.5,600.0 469.9,598.1 472.6,596.8 475.0,595.0 478.0,592.6 481.9,592.1 485.0,590.0 488.1,587.5 491.4,585.4 495.0,583.8 497.9,581.0 502.1,580.3 505.0,577.5 508.5,576.2 512.0,574.8 515.0,572.5 520.0,570.5 520.0,571.2 523.4,571.0 526.6,569.6 530.0,570.0 533.4,570.5 536.7,571.7 540.0,572.5 543.7,571.4 547.6,572.5 551.2,571.2 554.3,569.8 557.5,568.8 559.9,570.9 561.2,573.8 564.3,574.9 567.5,575.0 569.9,577.1 571.2,580.0 574.0,581.6 577.1,581.6 580.0,582.5 583.2,580.7 586.2,578.8 589.5,579.7 592.5,581.2 595.6,579.4 598.8,577.5 602.2,579.6 605.0,582.5 607.8,580.5 611.2,580.0 610.0,576.2 605.0,573.8 600.0,571.2 602.4,568.5 603.8,565.0 598.8,562.5 601.5,559.0 605.0,556.2 610.0,553.8 613.8,554.0 617.5,552.7 621.2,553.0 624.9,554.1 628.7,554.2 632.5,553.8 637.5,551.2 641.5,549.8 645.0,547.5 648.3,548.1 651.7,548.0 655.0,548.0 658.8,547.5 662.5,546.2 666.0,546.4 669.2,547.9 672.5,548.8 674.6,551.7 677.5,553.8 679.8,556.6 681.2,560.0 684.2,561.4 687.5,561.2 690.4,559.9 692.5,557.5 694.9,554.9 697.5,552.5 700.5,550.8 703.8,549.5 706.9,550.9 710.0,552.5 712.6,554.9 715.0,557.5 717.5,561.3 721.2,563.8 724.5,565.4 727.5,567.5 730.7,570.1 732.5,573.8 734.0,576.5 733.8,579.7 735.0,582.5 733.5,586.7 733.8,591.2 736.3,593.1 738.8,595.0 740.0,598.7 741.2,602.5 742.8,605.1 744.2,607.7 746.2,610.0 748.6,612.9 750.0,616.2 751.1,619.4 752.5,622.5 752.5,621.2 754.9,623.8 757.5,626.2 759.2,628.9 761.2,631.2 764.6,632.0 767.5,633.8 771.2,637.5 773.1,640.4 773.8,643.8 777.5,646.2 780.6,645.1 783.8,644.5 788.8,641.2 791.2,636.2 791.2,636.2 792.6,633.3 792.5,630.0 791.8,626.7 791.4,623.4 792.0,620.0 792.4,616.2 791.2,612.5 789.5,608.9 788.8,605.0 786.3,601.5 785.0,597.5 783.5,594.9 781.5,592.6 780.0,590.0 778.7,586.0 776.2,582.5 774.0,578.9 772.5,575.0 771.3,570.9 768.8,567.5 766.6,563.9 765.0,560.0 763.5,557.0 762.3,553.8 760.0,551.2 758.6,548.2 757.3,545.1 755.0,542.5 754.1,539.5 751.8,537.0 751.2,533.8 751.0,529.3 749.5,525.0 748.8,520.0 749.5,520.0 750.0,516.7 749.9,513.3 750.5,510.0 751.0,506.1 752.5,502.5 754.9,499.7 756.2,496.2 757.6,493.2 758.8,490.0 762.1,489.4 765.0,487.5 768.4,485.3 771.2,482.5 774.9,479.9 777.5,476.2 779.3,473.8 781.1,471.4 782.5,468.8 784.5,465.1 786.2,461.2 787.6,458.5 790.2,456.7 791.2,453.8 794.0,452.2 797.3,451.7 800.0,450.0 801.9,447.1 802.5,443.8 805.2,440.8 807.5,437.5 808.1,435.0 811.0,433.2 815.9,430.3 820.8,428.4 824.2,429.3 823.7,424.5 820.8,423.5 815.9,422.5 812.0,420.1 814.9,419.6 818.8,418.6 820.8,414.7 816.9,413.2 813.0,411.8 818.8,411.3 822.7,410.8 825.7,408.8 827.6,404.9 828.6,401.0 826.6,398.1 822.7,398.6 818.8,400.0 814.9,401.0 815.9,397.1 818.8,394.2 820.8,389.3 823.2,385.4 822.4,382.0 822.7,378.6 823.3,379.7 820.4,376.2 816.9,370.3 815.1,363.3 813.9,356.3 811.0,351.6 807.5,346.9 805.2,341.0 804.0,335.2 804.0,329.3 806.3,324.6 811.0,321.1 812.8,321.7 809.3,327.0 808.1,332.8 809.3,338.7 811.0,344.5 814.5,349.2 818.0,352.7 819.8,357.4 820.4,363.3 821.0,370.3 822.2,373.8 823.3,369.1 825.1,363.3 826.3,358.6 828.0,353.9 829.8,349.2 830.7,344.5 830.9,341.0 830.4,336.9 828.0,334.0 825.1,331.6 822.2,328.1 820.4,325.2 818.0,322.3 816.3,318.8 816.9,314.6 817.5,316.4 818.6,319.9 820.4,322.3 822.7,324.0 826.3,325.2 829.8,327.0 830.4,331.1 832.1,330.5 833.9,326.4 835.0,322.3 837.4,317.6 839.7,312.9 840.3,307.0 840.3,300.0 839.6,298.4 837.7,295.4 835.7,292.5 836.1,289.6 836.7,286.2 836.7,282.7 838.6,278.8 842.3,277.9 845.5,275.9 849.1,273.5 853.3,272.0 857.5,271.1 861.1,268.7 864.3,266.9 867.9,266.1 872.8,263.2 874.8,259.3 878.7,257.3 881.6,253.4 884.5,250.5 888.4,254.4 894.3,255.4 896.2,251.5 895.3,246.6 891.4,244.1 889.4,245.6 893.3,248.6 892.3,251.5 887.5,250.5 883.6,248.6 881.6,248.6 880.9,245.5 879.6,242.7 876.7,237.8 879.6,233.9 876.7,230.0 873.8,230.0 874.8,225.5 876.7,223.6 878.7,218.7 879.6,212.8 882.6,208.9 886.5,206.0 890.4,202.1 895.3,199.1 894.3,193.3 896.2,189.4 898.2,192.3 902.1,189.4 906.0,186.4 909.9,182.5 914.8,179.6 916.2,176.3 918.7,173.8 916.8,168.9 911.9,165.9 909.9,160.1 904.1,158.1 901.1,150.3 898.2,140.5 895.3,131.8 890.4,127.9 885.5,126.9 881.6,130.8 877.7,132.7 874.8,128.8 872.4,128.8 869.9,135.7 867.0,144.5 865.0,154.2 866.0,162.0 864.0,171.8 861.1,179.6 858.2,183.5 849.4,191.3 825.9,196.6 803.5,202.1 802.8,202.8 799.7,209.1 793.4,216.9 788.8,223.1 786.4,228.6 789.5,232.5 788.8,237.2 782.5,241.9 776.2,245.8 770.0,247.3 763.8,246.6 754.4,247.3 748.9,249.7 747.3,251.2 748.1,254.4 751.2,260.6 749.7,263.8 745.0,270.0 739.5,276.2 732.5,277.8 724.7,282.5 716.9,290.0 710.0,293.0 703.8,297.0 696.2,300.0 690.0,298.0 685.0,293.0 683.8,290.0 686.2,285.0 688.8,278.8 692.0,271.2 694.2,266.2 692.0,259.0 688.8,251.2 684.0,244.2 684.1,243.8 681.0,245.3 677.1,250.0 673.2,255.5 669.3,254.7 668.5,250.0 671.6,247.7 674.0,243.8 675.5,237.5 674.8,231.2 675.5,224.2 673.2,220.3 668.5,218.0 662.2,215.6 656.0,206.2 651.3,204.7 647.4,206.2 643.5,209.4 641.9,215.6 641.2,221.9 640.4,225.0 642.7,228.1 641.2,233.6 638.8,229.7 635.7,228.1 632.6,229.7 631.8,234.4 630.7,239.1 629.4,245.3 628.2,251.6 628.7,257.8 630.2,264.1 633.8,267.5 635.8,277.5 634.5,287.5 631.2,296.2 626.2,302.5 618.8,303.8 613.8,297.5 611.2,290.0 610.0,280.0 608.0,270.0 608.8,260.0 610.0,250.0 612.5,240.0 612.2,240.6 613.8,235.9 615.4,231.2 617.7,226.6 620.1,221.1 617.7,223.4 615.4,227.3 613.0,231.2 610.7,235.2 607.6,239.1 602.9,242.2 603.7,239.1 606.0,234.4 608.3,230.5 610.7,226.6 612.2,223.4 613.8,220.3 616.2,217.2 616.9,214.1 618.5,211.7 621.6,212.5 623.2,215.6 624.8,211.7 627.9,209.4 632.6,208.6 637.2,207.0 641.2,205.5 646.6,205.0 652.9,204.7 659.1,202.3 663.8,203.1 668.5,204.7 665.4,203.9 659.9,202.3 658.3,198.4 656.0,194.5 651.3,196.1 646.6,195.3 645.8,192.2 643.5,190.3 638.8,191.4 632.6,193.0 626.3,195.3 621.6,199.7 620.1,196.9 616.2,197.7 611.5,198.8 607.6,196.1 602.9,192.2 596.6,191.9 592.7,195.3 592.7,191.4 595.1,186.7 599.8,182.8 602.9,179.4 599.0,178.6 593.5,180.5 587.2,185.2 579.4,191.4 571.6,195.3 563.8,200.8 560.7,198.4 559.8,197.3 555.9,200.5 557.5,195.0 555.2,193.4 549.7,195.8 543.4,198.1 538.0,198.9 542.7,195.8 548.1,191.1 554.4,185.6 560.6,180.2 566.9,175.5 573.1,172.3 572.3,169.7 570.0,169.2 563.8,166.9 557.5,166.9 554.4,165.3 549.7,167.7 545.0,169.2 540.3,166.9 537.2,164.5 534.1,165.3 530.9,162.2 526.2,159.1 521.6,158.3 516.9,158.3 512.2,159.8 507.5,157.5 502.8,157.2 498.9,155.9 497.3,149.7 495.8,143.4 492.2,143.4 491.9,150.5 420.0,148.9 435.0,150.8 397.5,149.2 362.5,146.2 335.0,142.5 310.0,138.8 310.0,139.2 280.0,135.5 250.0,131.2 220.0,126.2 191.2,121.2 177.5,118.8 150.0,112.5 120.0,105.0 98.8,97.5 98.6,97.4 97.6,103.3 98.6,117.0 85.9,113.1 82.0,111.6 77.1,109.6 72.2,106.7 67.8,103.3 65.6,100.9ZM835.7,292.5 841.6,288.6 849.4,284.7 859.1,279.8 868.9,273.9 865.0,273.4 861.1,273.9 853.3,276.5 845.5,278.8 837.7,282.3 835.3,286.6Z" fill="none" stroke="#000" stroke-width="2.0" stroke-linejoin="round"/>
<path d="M65.9,98.9 69.3,101.3 74.2,104.8 79.1,107.7 83.0,109.4 86.9,109.6M788.8,645.0 785.0,651.2M782.5,653.8 776.2,657.0M772.5,657.5 763.8,662.0M859.5,623.0 866.2,626.2 872.5,630.0 874.5,637.5 872.5,638.8M883.8,637.5 888.8,642.5 893.8,646.2M882.5,660.0 890.0,662.5M896.2,657.5 901.2,665.0 908.8,670.0M920.0,670.0 928.8,671.2 923.8,682.5M833.8,693.8 845.0,694.5 855.0,698.8 856.2,702.5M862.5,706.2 868.8,710.0M812.5,692.0 820.0,694.5" fill="none" stroke="#000" stroke-width="2.1" stroke-linejoin="round" stroke-linecap="round"/>
<path d="M794.0,351.0 798.1,350.4 804.0,352.7 809.8,354.5M798.7,355.7 805.2,359.8 809.8,363.3 813.4,368.0M806.3,368.0 811.0,371.5 815.1,375.0M799.3,373.8 805.2,374.4 811.0,377.3 816.9,380.9M811.5,393.2 815.9,399.5 821.0,399.0 826.0,398.3M810.5,411.8 818.8,411.6 825.0,413.0M811.5,420.0 818.8,422.8 825.0,423.8M918.1,175.3 914.8,180.0 910.3,183.1 906.0,187.0 902.5,189.8 898.6,192.9 896.2,190.4 894.7,193.7 895.5,199.1 890.8,202.7 886.9,206.6 883.0,209.3 880.2,213.2" fill="none" stroke="#000" stroke-width="2.6" stroke-linejoin="round" stroke-linecap="round"/>
<path d="M98.6,117.0 100.1,119.4 97.1,121.9 95.7,125.8 94.7,130.6 92.7,134.5 88.8,135.0 85.9,137.5 82.0,136.5 80.5,133.6 81.5,129.7 82.0,127.2 84.9,124.8 87.9,120.9 91.8,118.4 95.7,117.0ZM34.2,327.0 38.1,326.6 40.0,330.9 39.1,336.7 40.0,341.6 37.1,341.6 35.2,336.7 33.6,331.8ZM45.9,420.5 50.8,423.0 58.6,424.0 64.5,425.5 63.5,426.9 57.6,425.9 50.8,425.0 46.5,422.4ZM56.6,441.6 58.6,441.2 59.6,443.1 57.6,443.5ZM75.2,441.2 78.1,442.0 80.1,445.5 78.1,446.4 75.8,443.5ZM72.7,450.9 74.6,451.7 76.2,456.2 74.2,456.8 72.7,453.3ZM66.4,438.6 68.4,438.6 68.4,440.2 66.4,440.2ZM445.0,620.0 450.0,618.8 453.0,622.5 453.8,626.2 450.0,625.0 446.2,623.8ZM450.0,611.2 456.2,610.0 460.0,605.0 465.0,600.0 470.0,593.8 475.0,592.5 476.2,596.2 471.2,598.8 466.2,603.8 461.2,608.8 456.2,613.8ZM495.0,581.2 500.0,580.0 501.2,583.0 497.5,585.0ZM733.2,591.2 737.5,590.5 742.0,592.5 740.0,597.5 737.5,601.2 735.0,596.2ZM748.0,612.0 751.2,612.5 754.5,618.8 753.0,623.0 750.0,620.0ZM801.6,329.3 805.2,325.2 809.8,322.3 812.8,321.1 812.2,323.4 810.4,325.2 811.0,328.1 809.8,330.5 811.6,334.0 813.4,337.5 815.1,339.8 814.5,342.8 812.8,343.9 815.7,345.7 819.2,346.9 820.4,350.4 821.6,353.3 819.8,354.5 816.9,352.7 813.9,351.6 811.0,349.8 808.7,346.9 806.3,343.4 804.6,338.7 802.8,334.0ZM871.8,256.4 874.8,255.4 876.7,259.3 875.7,264.2 872.8,264.8 872.4,261.2ZM922.6,173.4 925.2,173.4 925.2,176.7 922.6,176.7ZM631.0,226.6 633.3,225.8 634.1,228.9 637.2,227.3 639.6,226.6 641.6,228.1 642.7,231.2 641.2,234.4 639.6,231.2 637.2,230.0 634.9,231.2 632.2,229.7ZM63.3,130.9 66.8,132.1 69.5,135.2 66.8,137.6 63.3,136.4ZM61.7,142.3 64.8,143.8 65.6,148.1 63.7,151.2 61.3,149.3Z" fill="#000" stroke="#000" stroke-width="0.8" stroke-linejoin="round"/>
</g>
<path d="M11.0,729.7H929.7V78.0" fill="none" stroke="#c0604c" stroke-width="0.6" stroke-opacity="0.6"/>
<rect x="10.5" y="77.5" width="920.0" height="653.0" fill="none" stroke="#000" stroke-width="1"/>
<g font-size="19.44" text-anchor="middle" fill="#000" stroke="#fff" stroke-width="4.2" stroke-linejoin="round" paint-order="stroke">
<text x="98.0" y="115.0">55</text>
<text x="131.2" y="172.5">72</text>
<text x="225.0" y="195.8">57</text>
<text x="317.5" y="183.2">69</text>
<text x="397.0" y="191.5">72</text>
<text x="520.0" y="207.5">55</text>
<text x="648.5" y="224.0">55</text>
<text x="842.1" y="199.9">61</text>
<text x="31.2" y="232.4">54</text>
<text x="183.6" y="259.3">68</text>
<text x="260.5" y="275.8">50</text>
<text x="359.2" y="249.5">72</text>
<text x="502.5" y="265.8">66</text>
<text x="684.0" y="283.2">63</text>
<text x="896.8" y="267.9">71</text>
<text x="68.4" y="291.4">48</text>
<text x="149.4" y="326.1">59</text>
<text x="269.5" y="336.5">69</text>
<text x="355.0" y="321.5">66</text>
<text x="607.5" y="312.5">66</text>
<text x="808.8" y="299.7">63</text>
<text x="38.5" y="365.6">48</text>
<text x="433.0" y="357.0">63</text>
<text x="508.0" y="358.2">66</text>
<text x="688.8" y="348.2">63</text>
<text x="768.0" y="369.0">63</text>
<text x="188.4" y="393.0">72</text>
<text x="303.0" y="393.2">58</text>
<text x="600.5" y="385.0">63</text>
<text x="94.7" y="437.2">73</text>
<text x="303.0" y="453.2">60</text>
<text x="389.0" y="433.2">60</text>
<text x="466.2" y="441.0">64</text>
<text x="757.5" y="429.5">68</text>
<text x="610.5" y="459.0">70</text>
<text x="683.7" y="458.0">68</text>
<text x="202.5" y="496.5">84</text>
<text x="280.0" y="510.5">72</text>
<text x="453.8" y="519.8">73</text>
<text x="529.2" y="513.2">71</text>
<text x="706.2" y="533.5">73</text>
<text x="378.0" y="542.2">68</text>
<text x="620.2" y="555.8">75</text>
<text x="497.5" y="578.2">78</text>
<text x="772.0" y="619.0">74</text>
<text x="587.0" y="634.4">82</text>
<text x="441.2" y="653.2">74</text>
</g>
<g id="colorbar">
<rect x="939.0" y="104.7" width="20.5" height="7.4" fill="#c83c3c"/>
<rect x="939.0" y="111.7" width="20.5" height="15.4" fill="#e8645f"/>
<rect x="939.0" y="126.7" width="20.5" height="15.6" fill="#f4a6a6"/>
<rect x="939.0" y="141.9" width="20.5" height="16.0" fill="#ffc8bb"/>
<rect x="939.0" y="157.5" width="20.5" height="15.6" fill="#f5dcd2"/>
<rect x="939.0" y="172.7" width="20.5" height="15.4" fill="#e1beb4"/>
<rect x="939.0" y="187.7" width="20.5" height="15.7" fill="#c88c87"/>
<rect x="939.0" y="203.0" width="20.5" height="15.4" fill="#8a665e"/>
<rect x="939.0" y="218.0" width="20.5" height="7.7" fill="#785046"/>
<rect x="939.0" y="225.3" width="20.5" height="16.1" fill="#643c32"/>
<rect x="939.0" y="241.0" width="20.5" height="15.4" fill="#a50000"/>
<rect x="939.0" y="256.0" width="20.5" height="15.4" fill="#c00000"/>
<rect x="939.0" y="271.0" width="20.5" height="15.4" fill="#e01400"/>
<rect x="939.0" y="286.0" width="20.5" height="15.4" fill="#ff3200"/>
<rect x="939.0" y="301.0" width="20.5" height="15.4" fill="#ff6000"/>
<rect x="939.0" y="316.0" width="20.5" height="15.4" fill="#ffa000"/>
<rect x="939.0" y="331.0" width="20.5" height="8.4" fill="#ffc03c"/>
<rect x="939.0" y="339.0" width="20.5" height="15.4" fill="#ffe878"/>
<rect x="939.0" y="354.0" width="20.5" height="15.4" fill="#c8ffbe"/>
<rect x="939.0" y="369.0" width="20.5" height="15.4" fill="#b4faaa"/>
<rect x="939.0" y="384.0" width="20.5" height="15.4" fill="#96f58c"/>
<rect x="939.0" y="399.0" width="20.5" height="30.6" fill="#64f064"/>
<rect x="939.0" y="429.2" width="20.5" height="15.4" fill="#46d24a"/>
<rect x="939.0" y="444.2" width="20.5" height="23.2" fill="#0fa00f"/>
<rect x="939.0" y="467.0" width="20.5" height="15.4" fill="#e6fffa"/>
<rect x="939.0" y="482.0" width="20.5" height="30.5" fill="#b4f0fa"/>
<rect x="939.0" y="512.1" width="20.5" height="46.3" fill="#50a5f5"/>
<rect x="939.0" y="558.0" width="20.5" height="37.4" fill="#1e6eeb"/>
<rect x="939.0" y="595.0" width="20.5" height="15.4" fill="#6e6e6e"/>
<rect x="939.0" y="610.0" width="20.5" height="16.2" fill="#969696"/>
<rect x="939.0" y="625.8" width="20.5" height="15.4" fill="#b4b4b4"/>
<rect x="939.0" y="640.8" width="20.5" height="15.6" fill="#d2d2d2"/>
<rect x="939.0" y="656.0" width="20.5" height="7.7" fill="#e6e6e6"/>
<path d="M939.0 105.0 L949.25 76.8 L959.5 105.0 Z" fill="#c83c3c"/>
<path d="M939.0 663.0 L949.25 691.2 L959.5 663.0 Z" fill="#e6e6e6"/>
<path d="M939.0 104.7 L949.25 76.8 L959.5 104.7 L959.5 663.3 L949.25 691.2 L939.0 663.3 Z" fill="none" stroke="#000" stroke-width="1.1" stroke-linejoin="miter"/>
<line x1="959.5" y1="663.8" x2="964.5" y2="663.8" stroke="#000" stroke-width="1.1"/>
<text x="969.8" y="672.4" font-size="22.2" fill="#000">-30</text>
<line x1="959.5" y1="626.1" x2="964.5" y2="626.1" stroke="#000" stroke-width="1.1"/>
<text x="969.8" y="634.7" font-size="22.2" fill="#000">-20</text>
<line x1="959.5" y1="588.3" x2="964.5" y2="588.3" stroke="#000" stroke-width="1.1"/>
<text x="969.8" y="596.9" font-size="22.2" fill="#000">-10</text>
<line x1="959.5" y1="550.6" x2="964.5" y2="550.6" stroke="#000" stroke-width="1.1"/>
<text x="969.8" y="559.2" font-size="22.2" fill="#000">0</text>
<line x1="959.5" y1="512.8" x2="964.5" y2="512.8" stroke="#000" stroke-width="1.1"/>
<text x="969.8" y="521.4" font-size="22.2" fill="#000">10</text>
<line x1="959.5" y1="475.1" x2="964.5" y2="475.1" stroke="#000" stroke-width="1.1"/>
<text x="969.8" y="483.7" font-size="22.2" fill="#000">20</text>
<line x1="959.5" y1="437.3" x2="964.5" y2="437.3" stroke="#000" stroke-width="1.1"/>
<text x="969.8" y="445.9" font-size="22.2" fill="#000">30</text>
<line x1="959.5" y1="399.6" x2="964.5" y2="399.6" stroke="#000" stroke-width="1.1"/>
<text x="969.8" y="408.2" font-size="22.2" fill="#000">40</text>
<line x1="959.5" y1="361.9" x2="964.5" y2="361.9" stroke="#000" stroke-width="1.1"/>
<text x="969.8" y="370.5" font-size="22.2" fill="#000">50</text>
<line x1="959.5" y1="324.1" x2="964.5" y2="324.1" stroke="#000" stroke-width="1.1"/>
<text x="969.8" y="332.7" font-size="22.2" fill="#000">60</text>
<line x1="959.5" y1="286.4" x2="964.5" y2="286.4" stroke="#000" stroke-width="1.1"/>
<text x="969.8" y="295.0" font-size="22.2" fill="#000">70</text>
<line x1="959.5" y1="248.6" x2="964.5" y2="248.6" stroke="#000" stroke-width="1.1"/>
<text x="969.8" y="257.2" font-size="22.2" fill="#000">80</text>
<line x1="959.5" y1="210.9" x2="964.5" y2="210.9" stroke="#000" stroke-width="1.1"/>
<text x="969.8" y="219.5" font-size="22.2" fill="#000">90</text>
<line x1="959.5" y1="173.1" x2="964.5" y2="173.1" stroke="#000" stroke-width="1.1"/>
<text x="969.8" y="181.7" font-size="22.2" fill="#000">100</text>
<line x1="959.5" y1="135.4" x2="964.5" y2="135.4" stroke="#000" stroke-width="1.1"/>
<text x="969.8" y="144.0" font-size="22.2" fill="#000">110</text>
</g>
<g id="logo" transform="translate(4 2) scale(0.08594)">
<path d="M60,72 L775,72 785,100 800,125 785,160 790,200 810,235 850,245 880,290 900,335 915,370 905,410 885,450 850,480 800,495 790,520 810,550 805,590 780,640 750,670 745,700 715,670 700,655 165,660 155,620 160,580 150,520 135,470 125,420 110,370 95,320 75,280 60,230 70,190 85,150 65,120Z" fill="#fff" stroke="#e8524a" stroke-width="12" stroke-linejoin="round"/>
<g fill="#0000c8" stroke="none">
<ellipse cx="330" cy="318" rx="33" ry="48"/>
<rect x="330" y="308" width="372" height="25"/>
<rect x="684" y="230" width="24" height="175"/>
<path d="M530,177 L592,180 655,233 772,236 772,256 588,256Z"/>
<ellipse cx="642" cy="385" rx="16" ry="24"/>
<ellipse cx="735" cy="392" rx="15" ry="24"/>
<ellipse cx="722" cy="447" rx="16" ry="24"/>
<circle cx="245" cy="300" r="15"/>
<circle cx="230" cy="345" r="15"/>
<circle cx="266" cy="345" r="15"/>
</g>
<g fill="none" stroke="#0000c8" stroke-width="14" stroke-linecap="round">
<path d="M325,300 L215,152"/>
<path d="M205,155 L232,125"/>
<path d="M232,182 L262,150"/>
<path d="M650,392 L720,440"/>
</g>
<text x="200" y="625" style="font-family:'Liberation Serif','DejaVu Serif',serif;font-style:italic" font-size="266" fill="#cc1f1f" textLength="412" lengthAdjust="spacingAndGlyphs">IEM</text>
</g>

<text x="92" y="41.2" font-size="25">Conus 2 meter Air Temperature</text>
<text x="92" y="66" font-size="16.67">21 Jul 2021 4:51 AM</text>
<text x="10.2" y="745" font-size="13.89">Iowa Environmental Mesonet :: generated 21 July 2021 04:51 AM</text>
<text x="1013.8" y="745" font-size="13.89" text-anchor="end">data units :: F</text>
</svg></body></html>
